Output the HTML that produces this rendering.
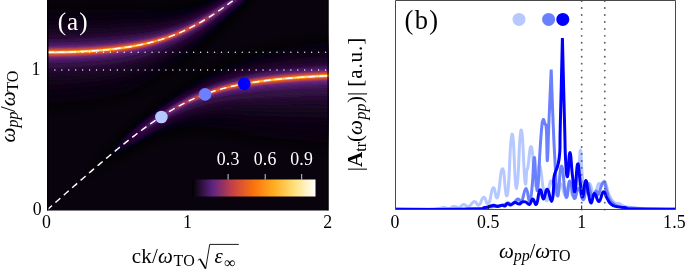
<!DOCTYPE html>
<html>
<head>
<meta charset="utf-8">
<title>Polariton dispersion</title>
<style>
html,body{margin:0;padding:0;background:#fff;}
body{width:685px;height:275px;overflow:hidden;font-family:"Liberation Serif",serif;}
svg{display:block;will-change:transform;}
text{font-family:"Liberation Serif",serif;}
.it{font-style:italic;}
</style>
</head>
<body>
<svg width="685" height="275" viewBox="0 0 685 275">
<defs>
  <clipPath id="clipL"><rect x="47" y="0" width="281.5" height="210.5"/></clipPath>
  <clipPath id="clipR"><rect x="395.5" y="0.5" width="280" height="209"/></clipPath>
  <filter id="hb8" filterUnits="userSpaceOnUse" x="0" y="-40" width="400" height="300"><feGaussianBlur stdDeviation="8"/></filter><filter id="hb6_5" filterUnits="userSpaceOnUse" x="0" y="-40" width="400" height="300"><feGaussianBlur stdDeviation="6.5"/></filter><filter id="hb5" filterUnits="userSpaceOnUse" x="0" y="-40" width="400" height="300"><feGaussianBlur stdDeviation="5"/></filter><filter id="hb3_5" filterUnits="userSpaceOnUse" x="0" y="-40" width="400" height="300"><feGaussianBlur stdDeviation="3.5"/></filter><filter id="hb2_5" filterUnits="userSpaceOnUse" x="0" y="-40" width="400" height="300"><feGaussianBlur stdDeviation="2.5"/></filter><filter id="hb1_6" filterUnits="userSpaceOnUse" x="0" y="-40" width="400" height="300"><feGaussianBlur stdDeviation="1.6"/></filter><filter id="hb1_0" filterUnits="userSpaceOnUse" x="0" y="-40" width="400" height="300"><feGaussianBlur stdDeviation="1.0"/></filter><filter id="hb0_5" filterUnits="userSpaceOnUse" x="0" y="-40" width="400" height="300"><feGaussianBlur stdDeviation="0.5"/></filter>
  <linearGradient id="gSpLo" gradientUnits="userSpaceOnUse" x1="47" y1="0" x2="328" y2="0">
    <stop offset="0.6" stop-color="#ffe9a8" stop-opacity="0"/>
    <stop offset="0.78" stop-color="#ffe9a8" stop-opacity="0.55"/>
    <stop offset="1" stop-color="#fff4d0" stop-opacity="0.9"/>
  </linearGradient>
  <linearGradient id="gSpUp" gradientUnits="userSpaceOnUse" x1="47" y1="0" x2="328" y2="0">
    <stop offset="0" stop-color="#fff4d0" stop-opacity="0.9"/>
    <stop offset="0.25" stop-color="#ffe9a8" stop-opacity="0.6"/>
    <stop offset="0.45" stop-color="#ffe9a8" stop-opacity="0"/>
  </linearGradient>
  <linearGradient id="gBar" x1="0" y1="0" x2="1" y2="0">
    <stop offset="0" stop-color="#000000"/>
    <stop offset="0.1667" stop-color="#5f2381"/>
    <stop offset="0.3333" stop-color="#c94245"/>
    <stop offset="0.5" stop-color="#fa730d"/>
    <stop offset="0.6667" stop-color="#ffae21"/>
    <stop offset="0.8333" stop-color="#ffe17d"/>
    <stop offset="1" stop-color="#ffffff"/>
  </linearGradient>
</defs>

<rect x="0" y="0" width="685" height="275" fill="#ffffff"/>

<!-- ================= LEFT PANEL (a) ================= -->
<rect x="47" y="0" width="281.5" height="210.5" fill="#08030c"/>
<g clip-path="url(#clipL)" fill="none" stroke-linecap="butt">
  <path d="M80.0,180.7 L84.0,177.1 L88.0,173.5 L92.0,169.9 L96.0,166.4 L100.0,162.9 L104.0,159.1 L108.0,155.5 L112.0,151.8 L116.0,148.2 L120.0,144.6 L124.0,141.1 L128.0,137.5 L132.0,133.9 L136.0,130.3 L140.0,126.8 L144.0,123.4 L148.0,120.0 L152.0,116.6 L156.0,113.2 L160.0,109.9 L164.0,106.6 L168.0,103.5 L172.0,100.4 L176.0,97.4 L180.0,94.5 L184.0,91.6 L188.0,88.8 L192.0,86.2 L196.0,83.6 L200.0,81.1 L204.0,78.8 L208.0,76.5 L212.0,74.2 L216.0,72.1 L220.0,70.0 L224.0,68.1 L228.0,66.2 L232.0,64.4 L236.0,62.6 L240.0,60.9 L244.0,59.3 L248.0,57.7 L252.0,56.3 L256.0,55.2 L260.0,54.1 L264.0,53.1 L268.0,52.0 L272.0,51.1 L276.0,50.1 L280.0,49.2 L284.0,48.5 L288.0,47.9 L292.0,47.2 L296.0,46.6 L300.0,46.0 L304.0,45.5 L308.0,44.9 L312.0,44.4 L316.0,43.8 L320.0,43.3 L324.0,42.8 L328.0,42.3 L332.0,42.1 L336.0,41.9 L340.0,41.7 L344.0,41.6 L344.0,141.9 L340.0,142.1 L336.0,142.2 L332.0,142.4 L328.0,142.6 L324.0,142.2 L320.0,141.8 L316.0,141.4 L312.0,141.0 L308.0,140.7 L304.0,140.4 L300.0,140.0 L296.0,139.7 L292.0,139.5 L288.0,139.2 L284.0,139.0 L280.0,138.8 L276.0,138.1 L272.0,137.5 L268.0,136.9 L264.0,136.4 L260.0,135.9 L256.0,135.4 L252.0,135.0 L248.0,134.2 L244.0,133.1 L240.0,132.0 L236.0,131.1 L232.0,130.2 L228.0,129.4 L224.0,128.6 L220.0,127.9 L216.0,127.3 L212.0,126.8 L208.0,126.5 L204.0,126.2 L200.0,126.0 L196.0,126.0 L192.0,126.2 L188.0,126.4 L184.0,126.8 L180.0,127.4 L176.0,128.0 L172.0,128.9 L168.0,129.9 L164.0,131.0 L160.0,132.2 L156.0,133.6 L152.0,135.0 L148.0,136.7 L144.0,138.6 L140.0,140.6 L136.0,142.7 L132.0,144.8 L128.0,147.0 L124.0,149.3 L120.0,151.9 L116.0,154.5 L112.0,157.2 L108.0,159.9 L104.0,162.6 L100.0,165.3 L96.0,168.6 L92.0,171.8 L88.0,175.0 L84.0,178.2 L80.0,181.4Z M32.0,9.1 L36.0,9.1 L40.0,9.1 L44.0,9.1 L48.0,9.1 L52.0,9.3 L56.0,9.4 L60.0,9.6 L64.0,9.7 L68.0,9.7 L72.0,9.8 L76.0,9.8 L80.0,9.8 L84.0,9.8 L88.0,9.8 L92.0,9.7 L96.0,9.6 L100.0,9.4 L104.0,9.5 L108.0,9.5 L112.0,9.5 L116.0,9.5 L120.0,9.4 L124.0,9.2 L128.0,9.0 L132.0,9.1 L136.0,9.6 L140.0,9.9 L144.0,10.2 L148.0,10.4 L152.0,10.5 L156.0,10.7 L160.0,10.7 L164.0,10.7 L168.0,10.5 L172.0,10.3 L176.0,9.9 L180.0,9.5 L184.0,8.9 L188.0,8.2 L192.0,7.3 L196.0,6.4 L200.0,5.3 L204.0,4.1 L208.0,2.7 L212.0,1.4 L216.0,-0.1 L220.0,-1.6 L224.0,-3.5 L228.0,-5.4 L232.0,-7.5 L236.0,-9.6 L240.0,-11.8 L244.0,-15.0 L248.0,-18.2 L248.0,-2.7 L244.0,0.5 L240.0,3.6 L236.0,7.7 L232.0,11.8 L228.0,15.8 L224.0,19.8 L220.0,23.7 L216.0,27.8 L212.0,31.8 L208.0,35.7 L204.0,39.4 L200.0,43.1 L196.0,46.6 L192.0,50.1 L188.0,53.4 L184.0,56.7 L180.0,59.9 L176.0,63.0 L172.0,66.0 L168.0,68.9 L164.0,71.7 L160.0,74.3 L156.0,76.9 L152.0,79.5 L148.0,81.8 L144.0,84.1 L140.0,86.2 L136.0,88.3 L132.0,90.4 L128.0,92.0 L124.0,93.0 L120.0,94.1 L116.0,95.1 L112.0,96.0 L108.0,96.9 L104.0,97.8 L100.0,98.6 L96.0,99.2 L92.0,99.7 L88.0,100.1 L84.0,100.6 L80.0,101.0 L76.0,101.4 L72.0,101.7 L68.0,102.1 L64.0,102.4 L60.0,102.7 L56.0,103.0 L52.0,103.2 L48.0,103.4 L44.0,103.5 L40.0,103.5 L36.0,103.5 L32.0,103.5Z" fill="#0b040f" filter="url(#hb8)"/>
  <path d="M84.0,177.3 L88.0,173.7 L92.0,170.1 L96.0,166.6 L100.0,163.1 L104.0,159.4 L108.0,155.7 L112.0,152.1 L116.0,148.6 L120.0,145.0 L124.0,141.5 L128.0,138.0 L132.0,134.5 L136.0,131.0 L140.0,127.6 L144.0,124.2 L148.0,120.9 L152.0,117.6 L156.0,114.3 L160.0,111.0 L164.0,107.9 L168.0,104.8 L172.0,101.9 L176.0,99.0 L180.0,96.1 L184.0,93.4 L188.0,90.8 L192.0,88.2 L196.0,85.8 L200.0,83.4 L204.0,81.2 L208.0,79.0 L212.0,76.9 L216.0,74.9 L220.0,73.0 L224.0,71.2 L228.0,69.4 L232.0,67.7 L236.0,66.1 L240.0,64.5 L244.0,63.0 L248.0,61.6 L252.0,60.3 L256.0,59.3 L260.0,58.3 L264.0,57.3 L268.0,56.4 L272.0,55.5 L276.0,54.6 L280.0,53.7 L284.0,53.1 L288.0,52.5 L292.0,51.9 L296.0,51.4 L300.0,50.8 L304.0,50.3 L308.0,49.8 L312.0,49.3 L316.0,48.8 L320.0,48.3 L324.0,47.8 L328.0,47.4 L332.0,47.2 L336.0,47.0 L340.0,46.9 L344.0,46.7 L344.0,131.7 L340.0,131.8 L336.0,132.0 L332.0,132.2 L328.0,132.4 L324.0,132.1 L320.0,131.8 L316.0,131.5 L312.0,131.2 L308.0,130.9 L304.0,130.7 L300.0,130.5 L296.0,130.2 L292.0,130.1 L288.0,129.9 L284.0,129.8 L280.0,129.6 L276.0,129.1 L272.0,128.7 L268.0,128.3 L264.0,127.9 L260.0,127.5 L256.0,127.2 L252.0,127.0 L248.0,126.4 L244.0,125.6 L240.0,124.8 L236.0,124.1 L232.0,123.5 L228.0,122.9 L224.0,122.5 L220.0,122.0 L216.0,121.7 L212.0,121.5 L208.0,121.4 L204.0,121.3 L200.0,121.5 L196.0,121.7 L192.0,122.1 L188.0,122.6 L184.0,123.2 L180.0,124.0 L176.0,124.9 L172.0,126.0 L168.0,127.2 L164.0,128.5 L160.0,129.9 L156.0,131.5 L152.0,133.1 L148.0,135.0 L144.0,137.0 L140.0,139.2 L136.0,141.4 L132.0,143.7 L128.0,146.0 L124.0,148.4 L120.0,151.1 L116.0,153.8 L112.0,156.6 L108.0,159.4 L104.0,162.2 L100.0,164.9 L96.0,168.1 L92.0,171.4 L88.0,174.6 L84.0,177.7Z M32.0,15.7 L36.0,15.7 L40.0,15.7 L44.0,15.7 L48.0,15.7 L52.0,15.9 L56.0,16.0 L60.0,16.1 L64.0,16.2 L68.0,16.2 L72.0,16.2 L76.0,16.2 L80.0,16.2 L84.0,16.2 L88.0,16.1 L92.0,16.0 L96.0,15.9 L100.0,15.7 L104.0,15.7 L108.0,15.7 L112.0,15.6 L116.0,15.5 L120.0,15.3 L124.0,15.1 L128.0,14.8 L132.0,14.8 L136.0,15.1 L140.0,15.3 L144.0,15.4 L148.0,15.4 L152.0,15.4 L156.0,15.3 L160.0,15.2 L164.0,14.9 L168.0,14.6 L172.0,14.2 L176.0,13.7 L180.0,13.0 L184.0,12.3 L188.0,11.4 L192.0,10.3 L196.0,9.2 L200.0,7.9 L204.0,6.5 L208.0,5.1 L212.0,3.5 L216.0,1.9 L220.0,0.2 L224.0,-1.8 L228.0,-3.9 L232.0,-6.1 L236.0,-8.4 L240.0,-10.7 L244.0,-13.9 L248.0,-17.1 L248.0,-4.0 L244.0,-0.8 L240.0,2.3 L236.0,6.3 L232.0,10.2 L228.0,14.0 L224.0,17.8 L220.0,21.6 L216.0,25.4 L212.0,29.3 L208.0,32.9 L204.0,36.5 L200.0,39.9 L196.0,43.3 L192.0,46.5 L188.0,49.7 L184.0,52.7 L180.0,55.7 L176.0,58.6 L172.0,61.4 L168.0,64.1 L164.0,66.6 L160.0,69.1 L156.0,71.4 L152.0,73.7 L148.0,75.9 L144.0,77.9 L140.0,79.9 L136.0,81.8 L132.0,83.6 L128.0,85.1 L124.0,86.1 L120.0,87.1 L116.0,88.0 L112.0,88.9 L108.0,89.7 L104.0,90.5 L100.0,91.3 L96.0,91.8 L92.0,92.2 L88.0,92.7 L84.0,93.1 L80.0,93.4 L76.0,93.8 L72.0,94.1 L68.0,94.4 L64.0,94.7 L60.0,95.0 L56.0,95.2 L52.0,95.4 L48.0,95.6 L44.0,95.7 L40.0,95.7 L36.0,95.7 L32.0,95.7Z" fill="#0e0513" filter="url(#hb8)"/>
  <path d="M92.0,170.3 L96.0,166.8 L100.0,163.3 L104.0,159.6 L108.0,155.9 L112.0,152.4 L116.0,148.8 L120.0,145.3 L124.0,141.9 L128.0,138.4 L132.0,134.9 L136.0,131.5 L140.0,128.1 L144.0,124.8 L148.0,121.5 L152.0,118.3 L156.0,115.0 L160.0,111.9 L164.0,108.8 L168.0,105.8 L172.0,102.9 L176.0,100.1 L180.0,97.4 L184.0,94.7 L188.0,92.2 L192.0,89.7 L196.0,87.4 L200.0,85.1 L204.0,82.9 L208.0,80.9 L212.0,78.9 L216.0,77.0 L220.0,75.1 L224.0,73.4 L228.0,71.7 L232.0,70.2 L236.0,68.6 L240.0,67.2 L244.0,65.8 L248.0,64.4 L252.0,63.2 L256.0,62.2 L260.0,61.3 L264.0,60.4 L268.0,59.5 L272.0,58.7 L276.0,57.8 L280.0,57.1 L284.0,56.5 L288.0,55.9 L292.0,55.3 L296.0,54.8 L300.0,54.3 L304.0,53.8 L308.0,53.3 L312.0,52.9 L316.0,52.4 L320.0,52.0 L324.0,51.5 L328.0,51.1 L332.0,50.9 L336.0,50.7 L340.0,50.6 L344.0,50.4 L344.0,124.3 L340.0,124.4 L336.0,124.6 L332.0,124.8 L328.0,125.0 L324.0,124.7 L320.0,124.5 L316.0,124.2 L312.0,124.0 L308.0,123.8 L304.0,123.7 L300.0,123.5 L296.0,123.4 L292.0,123.2 L288.0,123.1 L284.0,123.1 L280.0,123.0 L276.0,122.6 L272.0,122.3 L268.0,122.0 L264.0,121.7 L260.0,121.5 L256.0,121.3 L252.0,121.1 L248.0,120.7 L244.0,120.1 L240.0,119.5 L236.0,119.0 L232.0,118.6 L228.0,118.3 L224.0,118.0 L220.0,117.7 L216.0,117.6 L212.0,117.6 L208.0,117.6 L204.0,117.8 L200.0,118.1 L196.0,118.6 L192.0,119.1 L188.0,119.8 L184.0,120.6 L180.0,121.6 L176.0,122.6 L172.0,123.8 L168.0,125.2 L164.0,126.7 L160.0,128.3 L156.0,130.0 L152.0,131.7 L148.0,133.7 L144.0,135.9 L140.0,138.1 L136.0,140.4 L132.0,142.8 L128.0,145.2 L124.0,147.8 L120.0,150.5 L116.0,153.3 L112.0,156.1 L108.0,159.0 L104.0,161.8 L100.0,164.6 L96.0,167.8 L92.0,170.9Z M32.0,20.5 L36.0,20.5 L40.0,20.5 L44.0,20.5 L48.0,20.5 L52.0,20.7 L56.0,20.7 L60.0,20.8 L64.0,20.9 L68.0,20.9 L72.0,20.9 L76.0,20.9 L80.0,20.9 L84.0,20.8 L88.0,20.7 L92.0,20.6 L96.0,20.4 L100.0,20.2 L104.0,20.2 L108.0,20.1 L112.0,20.0 L116.0,19.8 L120.0,19.6 L124.0,19.4 L128.0,19.1 L132.0,19.0 L136.0,19.1 L140.0,19.1 L144.0,19.1 L148.0,19.0 L152.0,18.9 L156.0,18.7 L160.0,18.4 L164.0,18.0 L168.0,17.6 L172.0,17.0 L176.0,16.4 L180.0,15.6 L184.0,14.7 L188.0,13.7 L192.0,12.5 L196.0,11.2 L200.0,9.8 L204.0,8.4 L208.0,6.7 L212.0,5.1 L216.0,3.3 L220.0,1.5 L224.0,-0.6 L228.0,-2.8 L232.0,-5.1 L236.0,-7.5 L240.0,-9.9 L244.0,-13.1 L248.0,-16.3 L248.0,-5.0 L244.0,-1.8 L240.0,1.4 L236.0,5.2 L232.0,9.0 L228.0,12.7 L224.0,16.4 L220.0,20.0 L216.0,23.8 L212.0,27.4 L208.0,31.0 L204.0,34.3 L200.0,37.6 L196.0,40.8 L192.0,43.9 L188.0,46.9 L184.0,49.9 L180.0,52.7 L176.0,55.4 L172.0,58.0 L168.0,60.5 L164.0,62.9 L160.0,65.2 L156.0,67.5 L152.0,69.6 L148.0,71.6 L144.0,73.5 L140.0,75.3 L136.0,77.1 L132.0,78.8 L128.0,80.1 L124.0,81.1 L120.0,82.0 L116.0,82.8 L112.0,83.7 L108.0,84.4 L104.0,85.2 L100.0,85.9 L96.0,86.4 L92.0,86.8 L88.0,87.2 L84.0,87.6 L80.0,88.0 L76.0,88.3 L72.0,88.6 L68.0,88.9 L64.0,89.1 L60.0,89.4 L56.0,89.6 L52.0,89.8 L48.0,90.0 L44.0,90.0 L40.0,90.0 L36.0,90.0 L32.0,90.0Z" fill="#100616" filter="url(#hb8)"/>
  <path d="M100.0,163.5 L104.0,159.8 L108.0,156.1 L112.0,152.6 L116.0,149.1 L120.0,145.6 L124.0,142.2 L128.0,138.7 L132.0,135.3 L136.0,131.9 L140.0,128.6 L144.0,125.3 L148.0,122.1 L152.0,118.9 L156.0,115.7 L160.0,112.7 L164.0,109.6 L168.0,106.7 L172.0,103.9 L176.0,101.2 L180.0,98.5 L184.0,95.9 L188.0,93.5 L192.0,91.1 L196.0,88.8 L200.0,86.6 L204.0,84.6 L208.0,82.6 L212.0,80.7 L216.0,78.9 L220.0,77.1 L224.0,75.5 L228.0,73.9 L232.0,72.4 L236.0,71.0 L240.0,69.6 L244.0,68.3 L248.0,67.0 L252.0,65.9 L256.0,65.0 L260.0,64.1 L264.0,63.2 L268.0,62.4 L272.0,61.6 L276.0,60.9 L280.0,60.1 L284.0,59.6 L288.0,59.0 L292.0,58.5 L296.0,58.0 L300.0,57.5 L304.0,57.0 L308.0,56.6 L312.0,56.2 L316.0,55.7 L320.0,55.3 L324.0,54.9 L328.0,54.5 L332.0,54.3 L336.0,54.2 L340.0,54.0 L344.0,53.8 L344.0,117.4 L340.0,117.6 L336.0,117.7 L332.0,117.9 L328.0,118.1 L324.0,117.9 L320.0,117.7 L316.0,117.6 L312.0,117.4 L308.0,117.3 L304.0,117.2 L300.0,117.1 L296.0,117.0 L292.0,116.9 L288.0,116.9 L284.0,116.9 L280.0,116.9 L276.0,116.6 L272.0,116.4 L268.0,116.2 L264.0,116.0 L260.0,115.9 L256.0,115.8 L252.0,115.8 L248.0,115.5 L244.0,115.1 L240.0,114.7 L236.0,114.3 L232.0,114.1 L228.0,113.9 L224.0,113.8 L220.0,113.8 L216.0,113.8 L212.0,114.0 L208.0,114.2 L204.0,114.6 L200.0,115.1 L196.0,115.7 L192.0,116.4 L188.0,117.2 L184.0,118.2 L180.0,119.3 L176.0,120.5 L172.0,121.9 L168.0,123.4 L164.0,125.0 L160.0,126.7 L156.0,128.5 L152.0,130.5 L148.0,132.5 L144.0,134.8 L140.0,137.2 L136.0,139.6 L132.0,142.0 L128.0,144.5 L124.0,147.2 L120.0,150.0 L116.0,152.8 L112.0,155.7 L108.0,158.6 L104.0,161.4 L100.0,164.1Z M32.0,24.9 L36.0,24.9 L40.0,24.9 L44.0,24.9 L48.0,25.0 L52.0,25.1 L56.0,25.1 L60.0,25.2 L64.0,25.2 L68.0,25.2 L72.0,25.2 L76.0,25.2 L80.0,25.1 L84.0,25.0 L88.0,24.9 L92.0,24.8 L96.0,24.6 L100.0,24.4 L104.0,24.3 L108.0,24.2 L112.0,24.0 L116.0,23.8 L120.0,23.6 L124.0,23.3 L128.0,22.9 L132.0,22.8 L136.0,22.8 L140.0,22.7 L144.0,22.6 L148.0,22.4 L152.0,22.1 L156.0,21.8 L160.0,21.4 L164.0,20.9 L168.0,20.3 L172.0,19.6 L176.0,18.8 L180.0,18.0 L184.0,16.9 L188.0,15.8 L192.0,14.5 L196.0,13.1 L200.0,11.6 L204.0,10.0 L208.0,8.3 L212.0,6.5 L216.0,4.6 L220.0,2.7 L224.0,0.5 L228.0,-1.8 L232.0,-4.2 L236.0,-6.7 L240.0,-9.2 L244.0,-12.3 L248.0,-15.5 L248.0,-5.8 L244.0,-2.6 L240.0,0.5 L236.0,4.2 L232.0,7.9 L228.0,11.5 L224.0,15.1 L220.0,18.6 L216.0,22.2 L212.0,25.7 L208.0,29.1 L204.0,32.4 L200.0,35.5 L196.0,38.6 L192.0,41.6 L188.0,44.4 L184.0,47.2 L180.0,49.9 L176.0,52.4 L172.0,54.9 L168.0,57.3 L164.0,59.5 L160.0,61.7 L156.0,63.8 L152.0,65.8 L148.0,67.6 L144.0,69.4 L140.0,71.1 L136.0,72.7 L132.0,74.3 L128.0,75.5 L124.0,76.4 L120.0,77.3 L116.0,78.1 L112.0,78.9 L108.0,79.6 L104.0,80.3 L100.0,81.0 L96.0,81.4 L92.0,81.8 L88.0,82.2 L84.0,82.6 L80.0,82.9 L76.0,83.2 L72.0,83.5 L68.0,83.8 L64.0,84.0 L60.0,84.2 L56.0,84.4 L52.0,84.6 L48.0,84.7 L44.0,84.8 L40.0,84.8 L36.0,84.8 L32.0,84.8Z" fill="#13071a" filter="url(#hb6_5)"/>
  <path d="M104.0,159.9 L108.0,156.3 L112.0,152.8 L116.0,149.3 L120.0,145.8 L124.0,142.4 L128.0,139.0 L132.0,135.6 L136.0,132.2 L140.0,128.9 L144.0,125.7 L148.0,122.5 L152.0,119.4 L156.0,116.3 L160.0,113.2 L164.0,110.3 L168.0,107.4 L172.0,104.6 L176.0,101.9 L180.0,99.3 L184.0,96.8 L188.0,94.4 L192.0,92.1 L196.0,89.9 L200.0,87.8 L204.0,85.8 L208.0,83.8 L212.0,82.0 L216.0,80.3 L220.0,78.6 L224.0,77.0 L228.0,75.5 L232.0,74.1 L236.0,72.7 L240.0,71.4 L244.0,70.2 L248.0,69.0 L252.0,67.9 L256.0,67.0 L260.0,66.2 L264.0,65.4 L268.0,64.6 L272.0,63.8 L276.0,63.1 L280.0,62.4 L284.0,61.9 L288.0,61.3 L292.0,60.8 L296.0,60.4 L300.0,59.9 L304.0,59.5 L308.0,59.0 L312.0,58.6 L316.0,58.2 L320.0,57.8 L324.0,57.4 L328.0,57.1 L332.0,56.9 L336.0,56.7 L340.0,56.5 L344.0,56.4 L344.0,112.3 L340.0,112.5 L336.0,112.6 L332.0,112.8 L328.0,113.0 L324.0,112.9 L320.0,112.7 L316.0,112.6 L312.0,112.5 L308.0,112.4 L304.0,112.3 L300.0,112.3 L296.0,112.3 L292.0,112.2 L288.0,112.2 L284.0,112.3 L280.0,112.3 L276.0,112.1 L272.0,112.0 L268.0,111.9 L264.0,111.8 L260.0,111.7 L256.0,111.7 L252.0,111.7 L248.0,111.6 L244.0,111.3 L240.0,111.0 L236.0,110.8 L232.0,110.7 L228.0,110.7 L224.0,110.7 L220.0,110.8 L216.0,111.0 L212.0,111.3 L208.0,111.7 L204.0,112.2 L200.0,112.8 L196.0,113.5 L192.0,114.3 L188.0,115.3 L184.0,116.4 L180.0,117.6 L176.0,118.9 L172.0,120.4 L168.0,122.0 L164.0,123.7 L160.0,125.6 L156.0,127.5 L152.0,129.5 L148.0,131.7 L144.0,134.0 L140.0,136.4 L136.0,138.9 L132.0,141.4 L128.0,144.0 L124.0,146.7 L120.0,149.5 L116.0,152.4 L112.0,155.3 L108.0,158.2 L104.0,161.1Z M32.0,28.2 L36.0,28.2 L40.0,28.2 L44.0,28.2 L48.0,28.3 L52.0,28.4 L56.0,28.4 L60.0,28.5 L64.0,28.5 L68.0,28.5 L72.0,28.4 L76.0,28.4 L80.0,28.3 L84.0,28.2 L88.0,28.1 L92.0,27.9 L96.0,27.8 L100.0,27.5 L104.0,27.4 L108.0,27.3 L112.0,27.1 L116.0,26.8 L120.0,26.6 L124.0,26.2 L128.0,25.9 L132.0,25.6 L136.0,25.5 L140.0,25.4 L144.0,25.2 L148.0,24.9 L152.0,24.5 L156.0,24.1 L160.0,23.6 L164.0,23.1 L168.0,22.4 L172.0,21.6 L176.0,20.7 L180.0,19.7 L184.0,18.6 L188.0,17.4 L192.0,16.0 L196.0,14.6 L200.0,13.0 L204.0,11.3 L208.0,9.5 L212.0,7.6 L216.0,5.6 L220.0,3.6 L224.0,1.3 L228.0,-1.1 L232.0,-3.5 L236.0,-6.0 L240.0,-8.6 L244.0,-11.8 L248.0,-15.0 L248.0,-6.5 L244.0,-3.3 L240.0,-0.2 L236.0,3.5 L232.0,7.1 L228.0,10.7 L224.0,14.1 L220.0,17.6 L216.0,21.0 L212.0,24.5 L208.0,27.7 L204.0,30.9 L200.0,34.0 L196.0,36.9 L192.0,39.8 L188.0,42.5 L184.0,45.2 L180.0,47.8 L176.0,50.2 L172.0,52.6 L168.0,54.9 L164.0,57.0 L160.0,59.1 L156.0,61.0 L152.0,62.9 L148.0,64.7 L144.0,66.3 L140.0,67.9 L136.0,69.4 L132.0,70.9 L128.0,72.1 L124.0,72.9 L120.0,73.8 L116.0,74.5 L112.0,75.3 L108.0,76.0 L104.0,76.6 L100.0,77.3 L96.0,77.7 L92.0,78.1 L88.0,78.5 L84.0,78.8 L80.0,79.1 L76.0,79.4 L72.0,79.7 L68.0,79.9 L64.0,80.2 L60.0,80.4 L56.0,80.5 L52.0,80.7 L48.0,80.8 L44.0,80.9 L40.0,80.9 L36.0,80.9 L32.0,80.9Z" fill="#16081d" filter="url(#hb6_5)"/>
  <path d="M104.0,160.2 L108.0,156.5 L112.0,152.9 L116.0,149.5 L120.0,146.0 L124.0,142.6 L128.0,139.2 L132.0,135.9 L136.0,132.5 L140.0,129.3 L144.0,126.1 L148.0,122.9 L152.0,119.8 L156.0,116.8 L160.0,113.8 L164.0,110.9 L168.0,108.0 L172.0,105.3 L176.0,102.7 L180.0,100.1 L184.0,97.7 L188.0,95.3 L192.0,93.0 L196.0,90.9 L200.0,88.8 L204.0,86.9 L208.0,85.0 L212.0,83.2 L216.0,81.6 L220.0,80.0 L224.0,78.4 L228.0,77.0 L232.0,75.6 L236.0,74.3 L240.0,73.1 L244.0,71.9 L248.0,70.7 L252.0,69.7 L256.0,68.9 L260.0,68.1 L264.0,67.3 L268.0,66.5 L272.0,65.8 L276.0,65.1 L280.0,64.5 L284.0,64.0 L288.0,63.5 L292.0,63.0 L296.0,62.5 L300.0,62.1 L304.0,61.7 L308.0,61.3 L312.0,60.9 L316.0,60.5 L320.0,60.1 L324.0,59.8 L328.0,59.4 L332.0,59.2 L336.0,59.0 L340.0,58.9 L344.0,58.7 L344.0,107.6 L340.0,107.8 L336.0,108.0 L332.0,108.1 L328.0,108.3 L324.0,108.2 L320.0,108.1 L316.0,108.1 L312.0,108.0 L308.0,108.0 L304.0,107.9 L300.0,107.9 L296.0,107.9 L292.0,108.0 L288.0,108.0 L284.0,108.1 L280.0,108.2 L276.0,108.0 L272.0,108.0 L268.0,107.9 L264.0,107.9 L260.0,107.9 L256.0,108.0 L252.0,108.1 L248.0,108.0 L244.0,107.8 L240.0,107.7 L236.0,107.7 L232.0,107.7 L228.0,107.8 L224.0,107.9 L220.0,108.1 L216.0,108.4 L212.0,108.8 L208.0,109.3 L204.0,109.9 L200.0,110.7 L196.0,111.5 L192.0,112.5 L188.0,113.5 L184.0,114.7 L180.0,116.1 L176.0,117.5 L172.0,119.1 L168.0,120.8 L164.0,122.6 L160.0,124.5 L156.0,126.5 L152.0,128.6 L148.0,130.9 L144.0,133.3 L140.0,135.7 L136.0,138.3 L132.0,140.9 L128.0,143.5 L124.0,146.2 L120.0,149.1 L116.0,152.0 L112.0,155.0 L108.0,157.9 L104.0,160.6Z M32.0,31.3 L36.0,31.3 L40.0,31.3 L44.0,31.3 L48.0,31.3 L52.0,31.4 L56.0,31.4 L60.0,31.4 L64.0,31.4 L68.0,31.4 L72.0,31.4 L76.0,31.3 L80.0,31.2 L84.0,31.1 L88.0,31.0 L92.0,30.8 L96.0,30.6 L100.0,30.4 L104.0,30.2 L108.0,30.1 L112.0,29.8 L116.0,29.6 L120.0,29.3 L124.0,28.9 L128.0,28.5 L132.0,28.2 L136.0,28.1 L140.0,27.8 L144.0,27.5 L148.0,27.1 L152.0,26.7 L156.0,26.2 L160.0,25.7 L164.0,25.0 L168.0,24.2 L172.0,23.4 L176.0,22.4 L180.0,21.3 L184.0,20.1 L188.0,18.8 L192.0,17.4 L196.0,15.9 L200.0,14.2 L204.0,12.4 L208.0,10.5 L212.0,8.6 L216.0,6.5 L220.0,4.4 L224.0,2.0 L228.0,-0.4 L232.0,-2.9 L236.0,-5.5 L240.0,-8.1 L244.0,-11.3 L248.0,-14.5 L248.0,-7.1 L244.0,-3.9 L240.0,-0.8 L236.0,2.8 L232.0,6.4 L228.0,9.8 L224.0,13.2 L220.0,16.6 L216.0,20.0 L212.0,23.3 L208.0,26.5 L204.0,29.6 L200.0,32.5 L196.0,35.4 L192.0,38.2 L188.0,40.8 L184.0,43.4 L180.0,45.9 L176.0,48.2 L172.0,50.5 L168.0,52.7 L164.0,54.7 L160.0,56.7 L156.0,58.5 L152.0,60.3 L148.0,62.0 L144.0,63.5 L140.0,65.0 L136.0,66.5 L132.0,67.8 L128.0,68.9 L124.0,69.8 L120.0,70.6 L116.0,71.3 L112.0,72.0 L108.0,72.7 L104.0,73.3 L100.0,73.9 L96.0,74.3 L92.0,74.7 L88.0,75.1 L84.0,75.4 L80.0,75.7 L76.0,76.0 L72.0,76.2 L68.0,76.4 L64.0,76.7 L60.0,76.8 L56.0,77.0 L52.0,77.1 L48.0,77.3 L44.0,77.3 L40.0,77.3 L36.0,77.3 L32.0,77.3Z" fill="#190922" filter="url(#hb6_5)"/>
  <path d="M108.0,156.7 L112.0,153.1 L116.0,149.6 L120.0,146.2 L124.0,142.8 L128.0,139.4 L132.0,136.1 L136.0,132.8 L140.0,129.5 L144.0,126.4 L148.0,123.2 L152.0,120.2 L156.0,117.1 L160.0,114.2 L164.0,111.3 L168.0,108.5 L172.0,105.8 L176.0,103.2 L180.0,100.7 L184.0,98.3 L188.0,96.0 L192.0,93.8 L196.0,91.7 L200.0,89.7 L204.0,87.7 L208.0,85.9 L212.0,84.2 L216.0,82.5 L220.0,81.0 L224.0,79.5 L228.0,78.1 L232.0,76.8 L236.0,75.6 L240.0,74.4 L244.0,73.2 L248.0,72.1 L252.0,71.2 L256.0,70.3 L260.0,69.5 L264.0,68.8 L268.0,68.1 L272.0,67.4 L276.0,66.7 L280.0,66.1 L284.0,65.6 L288.0,65.1 L292.0,64.6 L296.0,64.2 L300.0,63.8 L304.0,63.4 L308.0,63.0 L312.0,62.6 L316.0,62.2 L320.0,61.9 L324.0,61.5 L328.0,61.2 L332.0,61.0 L336.0,60.8 L340.0,60.7 L344.0,60.5 L344.0,104.0 L340.0,104.2 L336.0,104.4 L332.0,104.5 L328.0,104.7 L324.0,104.7 L320.0,104.6 L316.0,104.6 L312.0,104.5 L308.0,104.5 L304.0,104.5 L300.0,104.6 L296.0,104.6 L292.0,104.6 L288.0,104.7 L284.0,104.8 L280.0,104.9 L276.0,104.9 L272.0,104.9 L268.0,104.9 L264.0,104.9 L260.0,105.0 L256.0,105.1 L252.0,105.3 L248.0,105.3 L244.0,105.2 L240.0,105.2 L236.0,105.2 L232.0,105.3 L228.0,105.5 L224.0,105.7 L220.0,106.0 L216.0,106.4 L212.0,106.9 L208.0,107.5 L204.0,108.2 L200.0,109.0 L196.0,110.0 L192.0,111.0 L188.0,112.2 L184.0,113.5 L180.0,114.9 L176.0,116.4 L172.0,118.0 L168.0,119.8 L164.0,121.7 L160.0,123.7 L156.0,125.8 L152.0,127.9 L148.0,130.2 L144.0,132.7 L140.0,135.2 L136.0,137.8 L132.0,140.4 L128.0,143.1 L124.0,145.9 L120.0,148.8 L116.0,151.7 L112.0,154.7 L108.0,157.5Z M32.0,33.6 L36.0,33.6 L40.0,33.6 L44.0,33.6 L48.0,33.6 L52.0,33.7 L56.0,33.7 L60.0,33.7 L64.0,33.7 L68.0,33.7 L72.0,33.7 L76.0,33.6 L80.0,33.5 L84.0,33.4 L88.0,33.2 L92.0,33.0 L96.0,32.8 L100.0,32.6 L104.0,32.4 L108.0,32.2 L112.0,32.0 L116.0,31.7 L120.0,31.4 L124.0,31.0 L128.0,30.6 L132.0,30.2 L136.0,30.0 L140.0,29.7 L144.0,29.4 L148.0,28.9 L152.0,28.4 L156.0,27.9 L160.0,27.2 L164.0,26.5 L168.0,25.7 L172.0,24.7 L176.0,23.7 L180.0,22.6 L184.0,21.3 L188.0,20.0 L192.0,18.5 L196.0,16.8 L200.0,15.1 L204.0,13.3 L208.0,11.3 L212.0,9.3 L216.0,7.2 L220.0,5.0 L224.0,2.6 L228.0,0.2 L232.0,-2.4 L236.0,-5.0 L240.0,-7.7 L244.0,-10.9 L248.0,-14.1 L248.0,-7.6 L244.0,-4.4 L240.0,-1.2 L236.0,2.3 L232.0,5.8 L228.0,9.2 L224.0,12.6 L220.0,15.8 L216.0,19.2 L212.0,22.4 L208.0,25.5 L204.0,28.5 L200.0,31.4 L196.0,34.2 L192.0,36.9 L188.0,39.5 L184.0,42.0 L180.0,44.4 L176.0,46.7 L172.0,48.9 L168.0,51.0 L164.0,52.9 L160.0,54.8 L156.0,56.6 L152.0,58.3 L148.0,59.9 L144.0,61.4 L140.0,62.8 L136.0,64.2 L132.0,65.5 L128.0,66.5 L124.0,67.3 L120.0,68.1 L116.0,68.8 L112.0,69.5 L108.0,70.1 L104.0,70.7 L100.0,71.3 L96.0,71.7 L92.0,72.1 L88.0,72.4 L84.0,72.7 L80.0,73.0 L76.0,73.3 L72.0,73.5 L68.0,73.8 L64.0,74.0 L60.0,74.1 L56.0,74.3 L52.0,74.4 L48.0,74.5 L44.0,74.5 L40.0,74.5 L36.0,74.5 L32.0,74.5Z" fill="#1d0b27" filter="url(#hb5)"/>
  <path d="M112.0,153.3 L116.0,149.8 L120.0,146.4 L124.0,143.0 L128.0,139.6 L132.0,136.3 L136.0,133.0 L140.0,129.8 L144.0,126.6 L148.0,123.5 L152.0,120.5 L156.0,117.5 L160.0,114.6 L164.0,111.7 L168.0,109.0 L172.0,106.3 L176.0,103.7 L180.0,101.3 L184.0,98.9 L188.0,96.6 L192.0,94.4 L196.0,92.4 L200.0,90.4 L204.0,88.5 L208.0,86.7 L212.0,85.1 L216.0,83.5 L220.0,81.9 L224.0,80.5 L228.0,79.2 L232.0,77.9 L236.0,76.7 L240.0,75.5 L244.0,74.4 L248.0,73.4 L252.0,72.4 L256.0,71.6 L260.0,70.9 L264.0,70.1 L268.0,69.5 L272.0,68.8 L276.0,68.2 L280.0,67.6 L284.0,67.1 L288.0,66.6 L292.0,66.1 L296.0,65.7 L300.0,65.3 L304.0,64.9 L308.0,64.5 L312.0,64.2 L316.0,63.8 L320.0,63.5 L324.0,63.2 L328.0,62.8 L332.0,62.7 L336.0,62.5 L340.0,62.3 L344.0,62.1 L344.0,100.8 L340.0,100.9 L336.0,101.1 L332.0,101.3 L328.0,101.5 L324.0,101.4 L320.0,101.4 L316.0,101.4 L312.0,101.4 L308.0,101.4 L304.0,101.4 L300.0,101.5 L296.0,101.6 L292.0,101.6 L288.0,101.7 L284.0,101.9 L280.0,102.0 L276.0,102.0 L272.0,102.0 L268.0,102.1 L264.0,102.2 L260.0,102.3 L256.0,102.5 L252.0,102.7 L248.0,102.8 L244.0,102.8 L240.0,102.8 L236.0,103.0 L232.0,103.2 L228.0,103.4 L224.0,103.8 L220.0,104.1 L216.0,104.6 L212.0,105.2 L208.0,105.9 L204.0,106.7 L200.0,107.6 L196.0,108.6 L192.0,109.7 L188.0,110.9 L184.0,112.3 L180.0,113.8 L176.0,115.4 L172.0,117.1 L168.0,118.9 L164.0,120.9 L160.0,122.9 L156.0,125.1 L152.0,127.3 L148.0,129.7 L144.0,132.2 L140.0,134.7 L136.0,137.4 L132.0,140.0 L128.0,142.8 L124.0,145.6 L120.0,148.5 L116.0,151.4 L112.0,154.3Z M32.0,35.7 L36.0,35.7 L40.0,35.7 L44.0,35.7 L48.0,35.7 L52.0,35.8 L56.0,35.8 L60.0,35.8 L64.0,35.8 L68.0,35.8 L72.0,35.7 L76.0,35.6 L80.0,35.5 L84.0,35.4 L88.0,35.2 L92.0,35.1 L96.0,34.8 L100.0,34.6 L104.0,34.4 L108.0,34.2 L112.0,33.9 L116.0,33.6 L120.0,33.3 L124.0,32.9 L128.0,32.4 L132.0,32.1 L136.0,31.8 L140.0,31.4 L144.0,31.0 L148.0,30.5 L152.0,30.0 L156.0,29.4 L160.0,28.7 L164.0,27.9 L168.0,27.0 L172.0,26.0 L176.0,24.9 L180.0,23.7 L184.0,22.4 L188.0,21.0 L192.0,19.4 L196.0,17.8 L200.0,16.0 L204.0,14.1 L208.0,12.1 L212.0,10.0 L216.0,7.8 L220.0,5.6 L224.0,3.2 L228.0,0.7 L232.0,-1.9 L236.0,-4.6 L240.0,-7.4 L244.0,-10.5 L248.0,-13.7 L248.0,-8.0 L244.0,-4.8 L240.0,-1.7 L236.0,1.8 L232.0,5.3 L228.0,8.6 L224.0,11.9 L220.0,15.2 L216.0,18.4 L212.0,21.6 L208.0,24.6 L204.0,27.6 L200.0,30.4 L196.0,33.1 L192.0,35.8 L188.0,38.3 L184.0,40.7 L180.0,43.0 L176.0,45.3 L172.0,47.4 L168.0,49.4 L164.0,51.3 L160.0,53.1 L156.0,54.8 L152.0,56.5 L148.0,58.0 L144.0,59.4 L140.0,60.8 L136.0,62.1 L132.0,63.3 L128.0,64.3 L124.0,65.1 L120.0,65.8 L116.0,66.5 L112.0,67.2 L108.0,67.8 L104.0,68.4 L100.0,68.9 L96.0,69.3 L92.0,69.7 L88.0,70.0 L84.0,70.3 L80.0,70.6 L76.0,70.9 L72.0,71.1 L68.0,71.3 L64.0,71.5 L60.0,71.7 L56.0,71.8 L52.0,71.9 L48.0,72.0 L44.0,72.0 L40.0,72.0 L36.0,72.0 L32.0,72.0Z" fill="#200c2c" filter="url(#hb5)"/>
  <path d="M112.0,153.5 L116.0,149.9 L120.0,146.5 L124.0,143.1 L128.0,139.8 L132.0,136.5 L136.0,133.2 L140.0,130.0 L144.0,126.9 L148.0,123.8 L152.0,120.8 L156.0,117.8 L160.0,114.9 L164.0,112.1 L168.0,109.4 L172.0,106.7 L176.0,104.2 L180.0,101.7 L184.0,99.4 L188.0,97.2 L192.0,95.0 L196.0,93.0 L200.0,91.0 L204.0,89.2 L208.0,87.5 L212.0,85.8 L216.0,84.3 L220.0,82.8 L224.0,81.4 L228.0,80.1 L232.0,78.8 L236.0,77.7 L240.0,76.6 L244.0,75.5 L248.0,74.5 L252.0,73.6 L256.0,72.8 L260.0,72.1 L264.0,71.4 L268.0,70.7 L272.0,70.0 L276.0,69.4 L280.0,68.9 L284.0,68.4 L288.0,67.9 L292.0,67.5 L296.0,67.1 L300.0,66.7 L304.0,66.3 L308.0,65.9 L312.0,65.6 L316.0,65.2 L320.0,64.9 L324.0,64.6 L328.0,64.3 L332.0,64.1 L336.0,63.9 L340.0,63.8 L344.0,63.6 L344.0,97.8 L340.0,98.0 L336.0,98.2 L332.0,98.4 L328.0,98.5 L324.0,98.5 L320.0,98.5 L316.0,98.6 L312.0,98.6 L308.0,98.6 L304.0,98.7 L300.0,98.8 L296.0,98.8 L292.0,99.0 L288.0,99.1 L284.0,99.2 L280.0,99.4 L276.0,99.5 L272.0,99.5 L268.0,99.6 L264.0,99.8 L260.0,99.9 L256.0,100.1 L252.0,100.4 L248.0,100.6 L244.0,100.6 L240.0,100.8 L236.0,101.0 L232.0,101.2 L228.0,101.6 L224.0,102.0 L220.0,102.5 L216.0,103.0 L212.0,103.7 L208.0,104.4 L204.0,105.3 L200.0,106.2 L196.0,107.3 L192.0,108.5 L188.0,109.8 L184.0,111.2 L180.0,112.8 L176.0,114.4 L172.0,116.2 L168.0,118.1 L164.0,120.1 L160.0,122.2 L156.0,124.4 L152.0,126.7 L148.0,129.1 L144.0,131.7 L140.0,134.3 L136.0,137.0 L132.0,139.7 L128.0,142.4 L124.0,145.2 L120.0,148.2 L116.0,151.1 L112.0,153.9Z M32.0,37.6 L36.0,37.6 L40.0,37.6 L44.0,37.6 L48.0,37.6 L52.0,37.7 L56.0,37.7 L60.0,37.7 L64.0,37.7 L68.0,37.6 L72.0,37.6 L76.0,37.5 L80.0,37.4 L84.0,37.2 L88.0,37.1 L92.0,36.9 L96.0,36.6 L100.0,36.4 L104.0,36.2 L108.0,35.9 L112.0,35.6 L116.0,35.3 L120.0,35.0 L124.0,34.5 L128.0,34.1 L132.0,33.7 L136.0,33.4 L140.0,33.0 L144.0,32.5 L148.0,32.0 L152.0,31.4 L156.0,30.7 L160.0,30.0 L164.0,29.1 L168.0,28.2 L172.0,27.1 L176.0,26.0 L180.0,24.7 L184.0,23.4 L188.0,21.9 L192.0,20.3 L196.0,18.6 L200.0,16.7 L204.0,14.8 L208.0,12.8 L212.0,10.6 L216.0,8.4 L220.0,6.1 L224.0,3.6 L228.0,1.1 L232.0,-1.5 L236.0,-4.3 L240.0,-7.0 L244.0,-10.2 L248.0,-13.4 L248.0,-8.4 L244.0,-5.2 L240.0,-2.1 L236.0,1.4 L232.0,4.8 L228.0,8.1 L224.0,11.4 L220.0,14.5 L216.0,17.7 L212.0,20.8 L208.0,23.8 L204.0,26.7 L200.0,29.5 L196.0,32.2 L192.0,34.8 L188.0,37.2 L184.0,39.6 L180.0,41.8 L176.0,44.0 L172.0,46.1 L168.0,48.0 L164.0,49.9 L160.0,51.6 L156.0,53.3 L152.0,54.8 L148.0,56.3 L144.0,57.7 L140.0,59.0 L136.0,60.2 L132.0,61.4 L128.0,62.4 L124.0,63.1 L120.0,63.8 L116.0,64.5 L112.0,65.2 L108.0,65.7 L104.0,66.3 L100.0,66.8 L96.0,67.2 L92.0,67.6 L88.0,67.9 L84.0,68.2 L80.0,68.5 L76.0,68.7 L72.0,68.9 L68.0,69.1 L64.0,69.3 L60.0,69.5 L56.0,69.6 L52.0,69.7 L48.0,69.8 L44.0,69.8 L40.0,69.8 L36.0,69.8 L32.0,69.8Z" fill="#250e32" filter="url(#hb5)"/>
  <path d="M116.0,150.2 L120.0,146.7 L124.0,143.3 L128.0,139.9 L132.0,136.6 L136.0,133.4 L140.0,130.2 L144.0,127.1 L148.0,124.0 L152.0,121.0 L156.0,118.1 L160.0,115.2 L164.0,112.4 L168.0,109.7 L172.0,107.1 L176.0,104.6 L180.0,102.2 L184.0,99.9 L188.0,97.6 L192.0,95.5 L196.0,93.5 L200.0,91.6 L204.0,89.8 L208.0,88.1 L212.0,86.5 L216.0,85.0 L220.0,83.5 L224.0,82.2 L228.0,80.9 L232.0,79.7 L236.0,78.5 L240.0,77.5 L244.0,76.4 L248.0,75.5 L252.0,74.6 L256.0,73.8 L260.0,73.1 L264.0,72.4 L268.0,71.8 L272.0,71.2 L276.0,70.6 L280.0,70.0 L284.0,69.5 L288.0,69.1 L292.0,68.7 L296.0,68.3 L300.0,67.9 L304.0,67.5 L308.0,67.2 L312.0,66.8 L316.0,66.5 L320.0,66.2 L324.0,65.9 L328.0,65.6 L332.0,65.4 L336.0,65.2 L340.0,65.0 L344.0,64.9 L344.0,95.3 L340.0,95.4 L336.0,95.6 L332.0,95.8 L328.0,96.0 L324.0,96.0 L320.0,96.0 L316.0,96.1 L312.0,96.1 L308.0,96.2 L304.0,96.3 L300.0,96.4 L296.0,96.5 L292.0,96.6 L288.0,96.8 L284.0,96.9 L280.0,97.1 L276.0,97.2 L272.0,97.3 L268.0,97.5 L264.0,97.6 L260.0,97.8 L256.0,98.1 L252.0,98.4 L248.0,98.6 L244.0,98.7 L240.0,98.9 L236.0,99.2 L232.0,99.5 L228.0,100.0 L224.0,100.4 L220.0,101.0 L216.0,101.6 L212.0,102.3 L208.0,103.1 L204.0,104.1 L200.0,105.1 L196.0,106.2 L192.0,107.5 L188.0,108.8 L184.0,110.3 L180.0,111.9 L176.0,113.6 L172.0,115.5 L168.0,117.4 L164.0,119.5 L160.0,121.6 L156.0,123.9 L152.0,126.2 L148.0,128.7 L144.0,131.2 L140.0,133.9 L136.0,136.6 L132.0,139.3 L128.0,142.1 L124.0,144.9 L120.0,147.8 L116.0,150.7Z M32.0,39.2 L36.0,39.2 L40.0,39.2 L44.0,39.2 L48.0,39.3 L52.0,39.3 L56.0,39.3 L60.0,39.3 L64.0,39.3 L68.0,39.2 L72.0,39.2 L76.0,39.1 L80.0,39.0 L84.0,38.8 L88.0,38.6 L92.0,38.4 L96.0,38.2 L100.0,37.9 L104.0,37.7 L108.0,37.5 L112.0,37.2 L116.0,36.8 L120.0,36.4 L124.0,36.0 L128.0,35.5 L132.0,35.1 L136.0,34.7 L140.0,34.3 L144.0,33.8 L148.0,33.2 L152.0,32.6 L156.0,31.9 L160.0,31.1 L164.0,30.2 L168.0,29.2 L172.0,28.1 L176.0,26.9 L180.0,25.6 L184.0,24.2 L188.0,22.7 L192.0,21.0 L196.0,19.3 L200.0,17.4 L204.0,15.4 L208.0,13.3 L212.0,11.2 L216.0,8.9 L220.0,6.6 L224.0,4.1 L228.0,1.5 L232.0,-1.2 L236.0,-3.9 L240.0,-6.7 L244.0,-9.9 L248.0,-13.1 L248.0,-8.7 L244.0,-5.5 L240.0,-2.4 L236.0,1.0 L232.0,4.4 L228.0,7.6 L224.0,10.9 L220.0,14.0 L216.0,17.1 L212.0,20.2 L208.0,23.1 L204.0,26.0 L200.0,28.7 L196.0,31.3 L192.0,33.9 L188.0,36.3 L184.0,38.6 L180.0,40.8 L176.0,42.9 L172.0,44.9 L168.0,46.8 L164.0,48.6 L160.0,50.3 L156.0,51.9 L152.0,53.4 L148.0,54.8 L144.0,56.1 L140.0,57.4 L136.0,58.6 L132.0,59.7 L128.0,60.6 L124.0,61.4 L120.0,62.1 L116.0,62.7 L112.0,63.4 L108.0,63.9 L104.0,64.5 L100.0,65.0 L96.0,65.3 L92.0,65.7 L88.0,66.0 L84.0,66.3 L80.0,66.6 L76.0,66.8 L72.0,67.0 L68.0,67.2 L64.0,67.4 L60.0,67.5 L56.0,67.7 L52.0,67.8 L48.0,67.8 L44.0,67.9 L40.0,67.9 L36.0,67.9 L32.0,67.9Z" fill="#2a1039" filter="url(#hb3_5)"/>
  <path d="M120.0,146.9 L124.0,143.5 L128.0,140.1 L132.0,136.8 L136.0,133.6 L140.0,130.4 L144.0,127.3 L148.0,124.2 L152.0,121.2 L156.0,118.3 L160.0,115.5 L164.0,112.7 L168.0,110.0 L172.0,107.4 L176.0,104.9 L180.0,102.5 L184.0,100.3 L188.0,98.1 L192.0,96.0 L196.0,94.0 L200.0,92.1 L204.0,90.4 L208.0,88.7 L212.0,87.1 L216.0,85.6 L220.0,84.2 L224.0,82.8 L228.0,81.6 L232.0,80.4 L236.0,79.3 L240.0,78.3 L244.0,77.3 L248.0,76.3 L252.0,75.5 L256.0,74.7 L260.0,74.0 L264.0,73.3 L268.0,72.7 L272.0,72.1 L276.0,71.5 L280.0,71.0 L284.0,70.5 L288.0,70.1 L292.0,69.7 L296.0,69.3 L300.0,68.9 L304.0,68.6 L308.0,68.2 L312.0,67.9 L316.0,67.6 L320.0,67.3 L324.0,67.0 L328.0,66.7 L332.0,66.5 L336.0,66.3 L340.0,66.2 L344.0,66.0 L344.0,93.1 L340.0,93.2 L336.0,93.4 L332.0,93.6 L328.0,93.8 L324.0,93.8 L320.0,93.8 L316.0,93.9 L312.0,94.0 L308.0,94.0 L304.0,94.1 L300.0,94.3 L296.0,94.4 L292.0,94.5 L288.0,94.7 L284.0,94.9 L280.0,95.1 L276.0,95.3 L272.0,95.4 L268.0,95.6 L264.0,95.8 L260.0,96.0 L256.0,96.3 L252.0,96.6 L248.0,96.9 L244.0,97.1 L240.0,97.4 L236.0,97.7 L232.0,98.1 L228.0,98.5 L224.0,99.1 L220.0,99.7 L216.0,100.4 L212.0,101.1 L208.0,102.0 L204.0,103.0 L200.0,104.1 L196.0,105.3 L192.0,106.6 L188.0,108.0 L184.0,109.5 L180.0,111.2 L176.0,112.9 L172.0,114.8 L168.0,116.8 L164.0,118.9 L160.0,121.1 L156.0,123.4 L152.0,125.8 L148.0,128.3 L144.0,130.9 L140.0,133.5 L136.0,136.2 L132.0,139.0 L128.0,141.8 L124.0,144.6 L120.0,147.4Z M32.0,40.7 L36.0,40.7 L40.0,40.7 L44.0,40.7 L48.0,40.7 L52.0,40.7 L56.0,40.7 L60.0,40.7 L64.0,40.7 L68.0,40.7 L72.0,40.6 L76.0,40.5 L80.0,40.3 L84.0,40.2 L88.0,40.0 L92.0,39.8 L96.0,39.6 L100.0,39.3 L104.0,39.1 L108.0,38.8 L112.0,38.5 L116.0,38.1 L120.0,37.7 L124.0,37.3 L128.0,36.8 L132.0,36.4 L136.0,35.9 L140.0,35.5 L144.0,34.9 L148.0,34.3 L152.0,33.6 L156.0,32.9 L160.0,32.0 L164.0,31.1 L168.0,30.1 L172.0,29.0 L176.0,27.7 L180.0,26.4 L184.0,25.0 L188.0,23.4 L192.0,21.7 L196.0,19.9 L200.0,18.0 L204.0,16.0 L208.0,13.9 L212.0,11.6 L216.0,9.4 L220.0,7.0 L224.0,4.4 L228.0,1.8 L232.0,-0.9 L236.0,-3.6 L240.0,-6.5 L244.0,-9.6 L248.0,-12.8 L248.0,-9.0 L244.0,-5.8 L240.0,-2.7 L236.0,0.7 L232.0,4.0 L228.0,7.2 L224.0,10.4 L220.0,13.5 L216.0,16.6 L212.0,19.6 L208.0,22.5 L204.0,25.3 L200.0,28.0 L196.0,30.6 L192.0,33.1 L188.0,35.4 L184.0,37.7 L180.0,39.9 L176.0,41.9 L172.0,43.9 L168.0,45.7 L164.0,47.5 L160.0,49.1 L156.0,50.7 L152.0,52.2 L148.0,53.5 L144.0,54.8 L140.0,56.0 L136.0,57.1 L132.0,58.2 L128.0,59.1 L124.0,59.9 L120.0,60.6 L116.0,61.2 L112.0,61.8 L108.0,62.4 L104.0,62.9 L100.0,63.4 L96.0,63.7 L92.0,64.1 L88.0,64.4 L84.0,64.7 L80.0,64.9 L76.0,65.2 L72.0,65.4 L68.0,65.5 L64.0,65.7 L60.0,65.8 L56.0,66.0 L52.0,66.1 L48.0,66.1 L44.0,66.2 L40.0,66.2 L36.0,66.2 L32.0,66.2Z" fill="#301241" filter="url(#hb3_5)"/>
  <path d="M124.0,143.7 L128.0,140.3 L132.0,136.9 L136.0,133.7 L140.0,130.5 L144.0,127.4 L148.0,124.4 L152.0,121.4 L156.0,118.5 L160.0,115.7 L164.0,112.9 L168.0,110.3 L172.0,107.7 L176.0,105.3 L180.0,102.9 L184.0,100.6 L188.0,98.4 L192.0,96.4 L196.0,94.4 L200.0,92.6 L204.0,90.8 L208.0,89.2 L212.0,87.6 L216.0,86.1 L220.0,84.7 L224.0,83.4 L228.0,82.2 L232.0,81.1 L236.0,80.0 L240.0,78.9 L244.0,78.0 L248.0,77.1 L252.0,76.2 L256.0,75.5 L260.0,74.8 L264.0,74.2 L268.0,73.5 L272.0,72.9 L276.0,72.4 L280.0,71.9 L284.0,71.4 L288.0,71.0 L292.0,70.6 L296.0,70.2 L300.0,69.8 L304.0,69.5 L308.0,69.1 L312.0,68.8 L316.0,68.5 L320.0,68.2 L324.0,67.9 L328.0,67.7 L332.0,67.5 L336.0,67.3 L340.0,67.1 L344.0,67.0 L344.0,91.1 L340.0,91.3 L336.0,91.5 L332.0,91.6 L328.0,91.8 L324.0,91.9 L320.0,91.9 L316.0,92.0 L312.0,92.1 L308.0,92.2 L304.0,92.3 L300.0,92.4 L296.0,92.6 L292.0,92.8 L288.0,93.0 L284.0,93.2 L280.0,93.4 L276.0,93.6 L272.0,93.7 L268.0,93.9 L264.0,94.2 L260.0,94.4 L256.0,94.8 L252.0,95.1 L248.0,95.4 L244.0,95.7 L240.0,96.0 L236.0,96.4 L232.0,96.8 L228.0,97.3 L224.0,97.9 L220.0,98.5 L216.0,99.3 L212.0,100.1 L208.0,101.0 L204.0,102.1 L200.0,103.2 L196.0,104.4 L192.0,105.8 L188.0,107.2 L184.0,108.8 L180.0,110.5 L176.0,112.3 L172.0,114.2 L168.0,116.3 L164.0,118.4 L160.0,120.7 L156.0,123.0 L152.0,125.4 L148.0,127.9 L144.0,130.5 L140.0,133.2 L136.0,135.9 L132.0,138.7 L128.0,141.5 L124.0,144.1Z M32.0,41.9 L36.0,41.9 L40.0,41.9 L44.0,41.9 L48.0,42.0 L52.0,42.0 L56.0,42.0 L60.0,42.0 L64.0,41.9 L68.0,41.9 L72.0,41.8 L76.0,41.7 L80.0,41.6 L84.0,41.4 L88.0,41.2 L92.0,41.0 L96.0,40.8 L100.0,40.5 L104.0,40.2 L108.0,40.0 L112.0,39.6 L116.0,39.3 L120.0,38.9 L124.0,38.4 L128.0,37.9 L132.0,37.4 L136.0,37.0 L140.0,36.5 L144.0,35.9 L148.0,35.3 L152.0,34.5 L156.0,33.8 L160.0,32.9 L164.0,31.9 L168.0,30.9 L172.0,29.7 L176.0,28.5 L180.0,27.1 L184.0,25.6 L188.0,24.0 L192.0,22.3 L196.0,20.5 L200.0,18.5 L204.0,16.5 L208.0,14.3 L212.0,12.1 L216.0,9.7 L220.0,7.3 L224.0,4.8 L228.0,2.1 L232.0,-0.6 L236.0,-3.4 L240.0,-6.2 L244.0,-9.4 L248.0,-12.6 L248.0,-9.3 L244.0,-6.1 L240.0,-3.0 L236.0,0.4 L232.0,3.7 L228.0,6.9 L224.0,10.0 L220.0,13.1 L216.0,16.2 L212.0,19.1 L208.0,22.0 L204.0,24.8 L200.0,27.4 L196.0,30.0 L192.0,32.4 L188.0,34.7 L184.0,37.0 L180.0,39.1 L176.0,41.1 L172.0,43.0 L168.0,44.8 L164.0,46.5 L160.0,48.1 L156.0,49.6 L152.0,51.1 L148.0,52.4 L144.0,53.6 L140.0,54.8 L136.0,55.9 L132.0,57.0 L128.0,57.8 L124.0,58.6 L120.0,59.2 L116.0,59.9 L112.0,60.4 L108.0,61.0 L104.0,61.5 L100.0,62.0 L96.0,62.3 L92.0,62.7 L88.0,63.0 L84.0,63.2 L80.0,63.5 L76.0,63.7 L72.0,63.9 L68.0,64.1 L64.0,64.3 L60.0,64.4 L56.0,64.5 L52.0,64.6 L48.0,64.7 L44.0,64.7 L40.0,64.7 L36.0,64.7 L32.0,64.7Z" fill="#36144a" filter="url(#hb3_5)"/>
  <path d="M128.0,140.5 L132.0,137.1 L136.0,133.8 L140.0,130.7 L144.0,127.5 L148.0,124.5 L152.0,121.5 L156.0,118.6 L160.0,115.8 L164.0,113.0 L168.0,110.4 L172.0,107.8 L176.0,105.3 L180.0,103.0 L184.0,100.7 L188.0,98.5 L192.0,96.5 L196.0,94.5 L200.0,92.7 L204.0,90.9 L208.0,89.3 L212.0,87.7 L216.0,86.3 L220.0,84.9 L224.0,83.6 L228.0,82.3 L232.0,81.2 L236.0,80.1 L240.0,79.1 L244.0,78.1 L248.0,77.2 L252.0,76.4 L256.0,75.7 L260.0,75.0 L264.0,74.3 L268.0,73.7 L272.0,73.1 L276.0,72.6 L280.0,72.0 L284.0,71.6 L288.0,71.2 L292.0,70.8 L296.0,70.4 L300.0,70.0 L304.0,69.7 L308.0,69.3 L312.0,69.0 L316.0,68.7 L320.0,68.4 L324.0,68.1 L328.0,67.9 L332.0,67.7 L336.0,67.5 L340.0,67.3 L344.0,67.2 L344.0,85.8 L340.0,85.9 L336.0,86.1 L332.0,86.3 L328.0,86.5 L324.0,86.6 L320.0,86.7 L316.0,86.8 L312.0,86.9 L308.0,87.1 L304.0,87.3 L300.0,87.4 L296.0,87.6 L292.0,87.8 L288.0,88.1 L284.0,88.3 L280.0,88.6 L276.0,88.9 L272.0,89.1 L268.0,89.4 L264.0,89.7 L260.0,90.1 L256.0,90.5 L252.0,90.9 L248.0,91.3 L244.0,91.7 L240.0,92.2 L236.0,92.7 L232.0,93.3 L228.0,94.0 L224.0,94.7 L220.0,95.5 L216.0,96.3 L212.0,97.3 L208.0,98.4 L204.0,99.5 L200.0,100.8 L196.0,102.2 L192.0,103.7 L188.0,105.3 L184.0,107.0 L180.0,108.8 L176.0,110.7 L172.0,112.7 L168.0,114.9 L164.0,117.1 L160.0,119.5 L156.0,121.9 L152.0,124.4 L148.0,127.0 L144.0,129.7 L140.0,132.5 L136.0,135.3 L132.0,138.1 L128.0,140.9Z M32.0,43.7 L36.0,43.7 L40.0,43.7 L44.0,43.7 L48.0,43.7 L52.0,43.7 L56.0,43.7 L60.0,43.7 L64.0,43.6 L68.0,43.6 L72.0,43.5 L76.0,43.4 L80.0,43.2 L84.0,43.1 L88.0,42.9 L92.0,42.7 L96.0,42.4 L100.0,42.1 L104.0,41.9 L108.0,41.6 L112.0,41.2 L116.0,40.8 L120.0,40.4 L124.0,39.9 L128.0,39.4 L132.0,38.9 L136.0,38.4 L140.0,37.9 L144.0,37.3 L148.0,36.6 L152.0,35.8 L156.0,35.0 L160.0,34.1 L164.0,33.1 L168.0,31.9 L172.0,30.7 L176.0,29.4 L180.0,28.0 L184.0,26.5 L188.0,24.8 L192.0,23.1 L196.0,21.2 L200.0,19.2 L204.0,17.1 L208.0,14.9 L212.0,12.6 L216.0,10.3 L220.0,7.8 L224.0,5.2 L228.0,2.5 L232.0,-0.2 L236.0,-3.0 L240.0,-5.9 L244.0,-9.1 L248.0,-12.3 L248.0,-9.8 L244.0,-6.6 L240.0,-3.5 L236.0,-0.2 L232.0,3.1 L228.0,6.2 L224.0,9.3 L220.0,12.4 L216.0,15.3 L212.0,18.2 L208.0,21.0 L204.0,23.7 L200.0,26.3 L196.0,28.8 L192.0,31.1 L188.0,33.4 L184.0,35.5 L180.0,37.6 L176.0,39.5 L172.0,41.4 L168.0,43.1 L164.0,44.7 L160.0,46.2 L156.0,47.7 L152.0,49.0 L148.0,50.3 L144.0,51.4 L140.0,52.5 L136.0,53.6 L132.0,54.5 L128.0,55.4 L124.0,56.1 L120.0,56.7 L116.0,57.3 L112.0,57.9 L108.0,58.4 L104.0,58.9 L100.0,59.3 L96.0,59.7 L92.0,60.0 L88.0,60.3 L84.0,60.5 L80.0,60.8 L76.0,61.0 L72.0,61.2 L68.0,61.4 L64.0,61.5 L60.0,61.6 L56.0,61.7 L52.0,61.8 L48.0,61.9 L44.0,61.9 L40.0,61.9 L36.0,61.9 L32.0,61.9Z" fill="#3f1755" filter="url(#hb2_5)"/>
  <path d="M132.0,137.4 L136.0,134.0 L140.0,130.8 L144.0,127.7 L148.0,124.7 L152.0,121.7 L156.0,118.8 L160.0,116.0 L164.0,113.3 L168.0,110.6 L172.0,108.1 L176.0,105.6 L180.0,103.3 L184.0,101.0 L188.0,98.9 L192.0,96.9 L196.0,94.9 L200.0,93.1 L204.0,91.4 L208.0,89.7 L212.0,88.2 L216.0,86.7 L220.0,85.4 L224.0,84.1 L228.0,82.9 L232.0,81.8 L236.0,80.7 L240.0,79.7 L244.0,78.8 L248.0,77.9 L252.0,77.1 L256.0,76.4 L260.0,75.7 L264.0,75.1 L268.0,74.5 L272.0,73.9 L276.0,73.3 L280.0,72.8 L284.0,72.4 L288.0,72.0 L292.0,71.6 L296.0,71.2 L300.0,70.8 L304.0,70.5 L308.0,70.2 L312.0,69.9 L316.0,69.6 L320.0,69.3 L324.0,69.0 L328.0,68.7 L332.0,68.6 L336.0,68.4 L340.0,68.2 L344.0,68.0 L344.0,84.6 L340.0,84.7 L336.0,84.9 L332.0,85.1 L328.0,85.3 L324.0,85.4 L320.0,85.5 L316.0,85.6 L312.0,85.8 L308.0,85.9 L304.0,86.1 L300.0,86.3 L296.0,86.5 L292.0,86.7 L288.0,87.0 L284.0,87.3 L280.0,87.5 L276.0,87.8 L272.0,88.1 L268.0,88.4 L264.0,88.7 L260.0,89.1 L256.0,89.5 L252.0,90.0 L248.0,90.4 L244.0,90.8 L240.0,91.3 L236.0,91.9 L232.0,92.5 L228.0,93.2 L224.0,93.9 L220.0,94.8 L216.0,95.7 L212.0,96.7 L208.0,97.8 L204.0,99.0 L200.0,100.2 L196.0,101.6 L192.0,103.2 L188.0,104.8 L184.0,106.5 L180.0,108.4 L176.0,110.3 L172.0,112.4 L168.0,114.5 L164.0,116.8 L160.0,119.2 L156.0,121.6 L152.0,124.1 L148.0,126.8 L144.0,129.5 L140.0,132.2 L136.0,135.0 L132.0,137.8Z M32.0,44.7 L36.0,44.7 L40.0,44.7 L44.0,44.7 L48.0,44.7 L52.0,44.7 L56.0,44.7 L60.0,44.6 L64.0,44.6 L68.0,44.5 L72.0,44.4 L76.0,44.3 L80.0,44.2 L84.0,44.0 L88.0,43.8 L92.0,43.6 L96.0,43.3 L100.0,43.1 L104.0,42.8 L108.0,42.5 L112.0,42.1 L116.0,41.7 L120.0,41.3 L124.0,40.8 L128.0,40.3 L132.0,39.8 L136.0,39.3 L140.0,38.7 L144.0,38.0 L148.0,37.3 L152.0,36.5 L156.0,35.7 L160.0,34.7 L164.0,33.7 L168.0,32.6 L172.0,31.3 L176.0,30.0 L180.0,28.5 L184.0,27.0 L188.0,25.3 L192.0,23.5 L196.0,21.6 L200.0,19.6 L204.0,17.5 L208.0,15.3 L212.0,13.0 L216.0,10.6 L220.0,8.1 L224.0,5.5 L228.0,2.8 L232.0,0.0 L236.0,-2.8 L240.0,-5.7 L244.0,-8.9 L248.0,-12.1 L248.0,-10.0 L244.0,-6.8 L240.0,-3.7 L236.0,-0.4 L232.0,2.8 L228.0,6.0 L224.0,9.0 L220.0,12.0 L216.0,15.0 L212.0,17.9 L208.0,20.6 L204.0,23.3 L200.0,25.8 L196.0,28.3 L192.0,30.6 L188.0,32.9 L184.0,35.0 L180.0,37.0 L176.0,38.9 L172.0,40.7 L168.0,42.4 L164.0,44.0 L160.0,45.5 L156.0,46.9 L152.0,48.2 L148.0,49.5 L144.0,50.6 L140.0,51.7 L136.0,52.7 L132.0,53.6 L128.0,54.4 L124.0,55.1 L120.0,55.8 L116.0,56.3 L112.0,56.9 L108.0,57.4 L104.0,57.9 L100.0,58.3 L96.0,58.6 L92.0,59.0 L88.0,59.3 L84.0,59.5 L80.0,59.8 L76.0,60.0 L72.0,60.2 L68.0,60.3 L64.0,60.5 L60.0,60.6 L56.0,60.7 L52.0,60.7 L48.0,60.8 L44.0,60.8 L40.0,60.8 L36.0,60.8 L32.0,60.8Z" fill="#471a61" filter="url(#hb2_5)"/>
  <path d="M140.0,131.1 L144.0,128.0 L148.0,124.9 L152.0,122.0 L156.0,119.1 L160.0,116.2 L164.0,113.5 L168.0,110.9 L172.0,108.4 L176.0,105.9 L180.0,103.6 L184.0,101.4 L188.0,99.2 L192.0,97.2 L196.0,95.3 L200.0,93.5 L204.0,91.8 L208.0,90.2 L212.0,88.7 L216.0,87.3 L220.0,85.9 L224.0,84.7 L228.0,83.5 L232.0,82.4 L236.0,81.3 L240.0,80.4 L244.0,79.5 L248.0,78.6 L252.0,77.8 L256.0,77.1 L260.0,76.4 L264.0,75.8 L268.0,75.2 L272.0,74.7 L276.0,74.1 L280.0,73.6 L284.0,73.2 L288.0,72.8 L292.0,72.4 L296.0,72.0 L300.0,71.7 L304.0,71.4 L308.0,71.0 L312.0,70.7 L316.0,70.4 L320.0,70.2 L324.0,69.9 L328.0,69.6 L332.0,69.5 L336.0,69.3 L340.0,69.1 L344.0,68.9 L344.0,83.3 L340.0,83.5 L336.0,83.7 L332.0,83.8 L328.0,84.0 L324.0,84.1 L320.0,84.3 L316.0,84.4 L312.0,84.6 L308.0,84.8 L304.0,84.9 L300.0,85.1 L296.0,85.4 L292.0,85.6 L288.0,85.9 L284.0,86.1 L280.0,86.4 L276.0,86.7 L272.0,87.0 L268.0,87.3 L264.0,87.7 L260.0,88.1 L256.0,88.5 L252.0,89.0 L248.0,89.5 L244.0,89.9 L240.0,90.4 L236.0,91.0 L232.0,91.7 L228.0,92.4 L224.0,93.2 L220.0,94.0 L216.0,95.0 L212.0,96.0 L208.0,97.1 L204.0,98.3 L200.0,99.7 L196.0,101.1 L192.0,102.6 L188.0,104.3 L184.0,106.1 L180.0,107.9 L176.0,109.9 L172.0,112.0 L168.0,114.2 L164.0,116.5 L160.0,118.8 L156.0,121.3 L152.0,123.8 L148.0,126.5 L144.0,129.2 L140.0,131.9Z M32.0,45.7 L36.0,45.7 L40.0,45.7 L44.0,45.7 L48.0,45.7 L52.0,45.7 L56.0,45.7 L60.0,45.6 L64.0,45.6 L68.0,45.5 L72.0,45.4 L76.0,45.3 L80.0,45.1 L84.0,45.0 L88.0,44.8 L92.0,44.5 L96.0,44.3 L100.0,44.0 L104.0,43.7 L108.0,43.4 L112.0,43.0 L116.0,42.6 L120.0,42.2 L124.0,41.7 L128.0,41.2 L132.0,40.6 L136.0,40.1 L140.0,39.5 L144.0,38.8 L148.0,38.1 L152.0,37.3 L156.0,36.4 L160.0,35.4 L164.0,34.3 L168.0,33.2 L172.0,31.9 L176.0,30.6 L180.0,29.1 L184.0,27.5 L188.0,25.8 L192.0,24.0 L196.0,22.1 L200.0,20.0 L204.0,17.9 L208.0,15.7 L212.0,13.3 L216.0,10.9 L220.0,8.4 L224.0,5.8 L228.0,3.0 L232.0,0.3 L236.0,-2.6 L240.0,-5.5 L244.0,-8.6 L248.0,-11.8 L248.0,-10.3 L244.0,-7.1 L240.0,-3.9 L236.0,-0.6 L232.0,2.6 L228.0,5.7 L224.0,8.7 L220.0,11.7 L216.0,14.6 L212.0,17.5 L208.0,20.2 L204.0,22.9 L200.0,25.4 L196.0,27.8 L192.0,30.1 L188.0,32.3 L184.0,34.4 L180.0,36.4 L176.0,38.3 L172.0,40.1 L168.0,41.7 L164.0,43.3 L160.0,44.8 L156.0,46.1 L152.0,47.4 L148.0,48.6 L144.0,49.7 L140.0,50.8 L136.0,51.8 L132.0,52.7 L128.0,53.5 L124.0,54.1 L120.0,54.8 L116.0,55.3 L112.0,55.9 L108.0,56.4 L104.0,56.8 L100.0,57.3 L96.0,57.6 L92.0,57.9 L88.0,58.2 L84.0,58.5 L80.0,58.7 L76.0,58.9 L72.0,59.1 L68.0,59.2 L64.0,59.4 L60.0,59.5 L56.0,59.6 L52.0,59.7 L48.0,59.7 L44.0,59.7 L40.0,59.7 L36.0,59.7 L32.0,59.7Z" fill="#531e70" filter="url(#hb2_5)"/>
  <path d="M144.0,128.3 L148.0,125.2 L152.0,122.2 L156.0,119.3 L160.0,116.5 L164.0,113.8 L168.0,111.2 L172.0,108.6 L176.0,106.2 L180.0,103.9 L184.0,101.7 L188.0,99.6 L192.0,97.6 L196.0,95.7 L200.0,93.9 L204.0,92.2 L208.0,90.6 L212.0,89.1 L216.0,87.7 L220.0,86.4 L224.0,85.2 L228.0,84.0 L232.0,83.0 L236.0,81.9 L240.0,81.0 L244.0,80.1 L248.0,79.2 L252.0,78.5 L256.0,77.8 L260.0,77.1 L264.0,76.5 L268.0,75.9 L272.0,75.4 L276.0,74.9 L280.0,74.4 L284.0,74.0 L288.0,73.6 L292.0,73.2 L296.0,72.8 L300.0,72.5 L304.0,72.2 L308.0,71.9 L312.0,71.6 L316.0,71.3 L320.0,71.0 L324.0,70.7 L328.0,70.5 L332.0,70.3 L336.0,70.1 L340.0,70.0 L344.0,69.8 L344.0,82.2 L340.0,82.3 L336.0,82.5 L332.0,82.7 L328.0,82.9 L324.0,83.0 L320.0,83.1 L316.0,83.3 L312.0,83.5 L308.0,83.6 L304.0,83.8 L300.0,84.1 L296.0,84.3 L292.0,84.5 L288.0,84.8 L284.0,85.1 L280.0,85.4 L276.0,85.7 L272.0,86.0 L268.0,86.3 L264.0,86.7 L260.0,87.1 L256.0,87.6 L252.0,88.1 L248.0,88.6 L244.0,89.1 L240.0,89.6 L236.0,90.2 L232.0,90.9 L228.0,91.6 L224.0,92.5 L220.0,93.3 L216.0,94.3 L212.0,95.4 L208.0,96.5 L204.0,97.8 L200.0,99.1 L196.0,100.6 L192.0,102.1 L188.0,103.8 L184.0,105.6 L180.0,107.5 L176.0,109.5 L172.0,111.6 L168.0,113.8 L164.0,116.1 L160.0,118.5 L156.0,121.0 L152.0,123.5 L148.0,126.1 L144.0,128.7Z M32.0,46.6 L36.0,46.6 L40.0,46.6 L44.0,46.6 L48.0,46.6 L52.0,46.6 L56.0,46.6 L60.0,46.6 L64.0,46.5 L68.0,46.4 L72.0,46.3 L76.0,46.2 L80.0,46.0 L84.0,45.9 L88.0,45.7 L92.0,45.4 L96.0,45.2 L100.0,44.9 L104.0,44.6 L108.0,44.3 L112.0,43.9 L116.0,43.5 L120.0,43.0 L124.0,42.5 L128.0,42.0 L132.0,41.4 L136.0,40.9 L140.0,40.3 L144.0,39.6 L148.0,38.8 L152.0,38.0 L156.0,37.1 L160.0,36.1 L164.0,35.0 L168.0,33.8 L172.0,32.5 L176.0,31.1 L180.0,29.6 L184.0,28.0 L188.0,26.3 L192.0,24.4 L196.0,22.5 L200.0,20.4 L204.0,18.3 L208.0,16.0 L212.0,13.7 L216.0,11.2 L220.0,8.7 L224.0,6.0 L228.0,3.3 L232.0,0.5 L236.0,-2.3 L240.0,-5.2 L244.0,-8.4 L248.0,-11.6 L248.0,-10.5 L244.0,-7.3 L240.0,-4.2 L236.0,-0.9 L232.0,2.3 L228.0,5.4 L224.0,8.4 L220.0,11.4 L216.0,14.3 L212.0,17.1 L208.0,19.8 L204.0,22.4 L200.0,24.9 L196.0,27.3 L192.0,29.6 L188.0,31.8 L184.0,33.9 L180.0,35.8 L176.0,37.7 L172.0,39.4 L168.0,41.1 L164.0,42.6 L160.0,44.1 L156.0,45.4 L152.0,46.7 L148.0,47.8 L144.0,48.9 L140.0,49.9 L136.0,50.9 L132.0,51.8 L128.0,52.6 L124.0,53.2 L120.0,53.8 L116.0,54.4 L112.0,54.9 L108.0,55.4 L104.0,55.9 L100.0,56.3 L96.0,56.6 L92.0,56.9 L88.0,57.2 L84.0,57.5 L80.0,57.7 L76.0,57.9 L72.0,58.1 L68.0,58.2 L64.0,58.4 L60.0,58.5 L56.0,58.6 L52.0,58.6 L48.0,58.7 L44.0,58.7 L40.0,58.7 L36.0,58.7 L32.0,58.7Z" fill="#612480" filter="url(#hb1_6)"/>
  <path d="M152.0,122.5 L156.0,119.5 L160.0,116.7 L164.0,114.0 L168.0,111.4 L172.0,108.9 L176.0,106.4 L180.0,104.1 L184.0,101.9 L188.0,99.8 L192.0,97.8 L196.0,96.0 L200.0,94.2 L204.0,92.5 L208.0,90.9 L212.0,89.4 L216.0,88.1 L220.0,86.7 L224.0,85.5 L228.0,84.4 L232.0,83.3 L236.0,82.3 L240.0,81.4 L244.0,80.5 L248.0,79.6 L252.0,78.9 L256.0,78.2 L260.0,77.6 L264.0,77.0 L268.0,76.4 L272.0,75.9 L276.0,75.3 L280.0,74.9 L284.0,74.4 L288.0,74.0 L292.0,73.7 L296.0,73.3 L300.0,73.0 L304.0,72.7 L308.0,72.3 L312.0,72.1 L316.0,71.8 L320.0,71.5 L324.0,71.3 L328.0,71.0 L332.0,70.8 L336.0,70.6 L340.0,70.5 L344.0,70.3 L344.0,79.7 L340.0,79.9 L336.0,80.1 L332.0,80.2 L328.0,80.4 L324.0,80.6 L320.0,80.7 L316.0,80.9 L312.0,81.1 L308.0,81.3 L304.0,81.5 L300.0,81.8 L296.0,82.0 L292.0,82.3 L288.0,82.6 L284.0,82.9 L280.0,83.2 L276.0,83.5 L272.0,83.9 L268.0,84.3 L264.0,84.7 L260.0,85.1 L256.0,85.6 L252.0,86.2 L248.0,86.7 L244.0,87.3 L240.0,87.9 L236.0,88.6 L232.0,89.3 L228.0,90.1 L224.0,91.0 L220.0,91.9 L216.0,93.0 L212.0,94.1 L208.0,95.3 L204.0,96.6 L200.0,98.0 L196.0,99.6 L192.0,101.2 L188.0,102.9 L184.0,104.8 L180.0,106.7 L176.0,108.8 L172.0,110.9 L168.0,113.2 L164.0,115.5 L160.0,118.0 L156.0,120.5 L152.0,123.0Z M32.0,47.7 L36.0,47.7 L40.0,47.7 L44.0,47.7 L48.0,47.7 L52.0,47.7 L56.0,47.7 L60.0,47.6 L64.0,47.6 L68.0,47.5 L72.0,47.4 L76.0,47.2 L80.0,47.1 L84.0,46.9 L88.0,46.7 L92.0,46.5 L96.0,46.2 L100.0,45.9 L104.0,45.6 L108.0,45.3 L112.0,44.9 L116.0,44.5 L120.0,44.0 L124.0,43.5 L128.0,42.9 L132.0,42.4 L136.0,41.8 L140.0,41.1 L144.0,40.4 L148.0,39.6 L152.0,38.7 L156.0,37.8 L160.0,36.8 L164.0,35.7 L168.0,34.5 L172.0,33.1 L176.0,31.7 L180.0,30.2 L184.0,28.6 L188.0,26.8 L192.0,24.9 L196.0,23.0 L200.0,20.9 L204.0,18.7 L208.0,16.4 L212.0,14.0 L216.0,11.6 L220.0,9.0 L224.0,6.3 L228.0,3.6 L232.0,0.8 L236.0,-2.0 L236.0,-1.3 L232.0,1.9 L228.0,5.0 L224.0,8.0 L220.0,10.9 L216.0,13.8 L212.0,16.6 L208.0,19.3 L204.0,21.8 L200.0,24.3 L196.0,26.6 L192.0,28.9 L188.0,31.0 L184.0,33.0 L180.0,35.0 L176.0,36.8 L172.0,38.5 L168.0,40.1 L164.0,41.6 L160.0,43.0 L156.0,44.3 L152.0,45.5 L148.0,46.6 L144.0,47.7 L140.0,48.6 L136.0,49.5 L132.0,50.4 L128.0,51.1 L124.0,51.8 L120.0,52.4 L116.0,52.9 L112.0,53.5 L108.0,53.9 L104.0,54.4 L100.0,54.8 L96.0,55.1 L92.0,55.4 L88.0,55.7 L84.0,55.9 L80.0,56.1 L76.0,56.3 L72.0,56.5 L68.0,56.7 L64.0,56.8 L60.0,56.9 L56.0,57.0 L52.0,57.0 L48.0,57.1 L44.0,57.1 L40.0,57.1 L36.0,57.1 L32.0,57.1Z" fill="#742975" filter="url(#hb1_6)"/>
  <path d="M160.0,117.0 L164.0,114.3 L168.0,111.6 L172.0,109.1 L176.0,106.7 L180.0,104.4 L184.0,102.2 L188.0,100.1 L192.0,98.2 L196.0,96.3 L200.0,94.5 L204.0,92.9 L208.0,91.3 L212.0,89.8 L216.0,88.5 L220.0,87.2 L224.0,86.0 L228.0,84.8 L232.0,83.8 L236.0,82.8 L240.0,81.9 L244.0,81.0 L248.0,80.2 L252.0,79.4 L256.0,78.8 L260.0,78.1 L264.0,77.5 L268.0,77.0 L272.0,76.4 L276.0,76.0 L280.0,75.5 L284.0,75.1 L288.0,74.7 L292.0,74.3 L296.0,74.0 L300.0,73.6 L304.0,73.3 L308.0,73.0 L312.0,72.7 L316.0,72.4 L320.0,72.2 L324.0,71.9 L328.0,71.7 L332.0,71.5 L336.0,71.3 L340.0,71.2 L344.0,71.0 L344.0,79.0 L340.0,79.2 L336.0,79.4 L332.0,79.5 L328.0,79.7 L324.0,79.9 L320.0,80.1 L316.0,80.2 L312.0,80.4 L308.0,80.7 L304.0,80.9 L300.0,81.1 L296.0,81.4 L292.0,81.7 L288.0,81.9 L284.0,82.3 L280.0,82.6 L276.0,82.9 L272.0,83.3 L268.0,83.7 L264.0,84.1 L260.0,84.6 L256.0,85.1 L252.0,85.6 L248.0,86.2 L244.0,86.8 L240.0,87.4 L236.0,88.1 L232.0,88.8 L228.0,89.7 L224.0,90.6 L220.0,91.5 L216.0,92.6 L212.0,93.7 L208.0,94.9 L204.0,96.3 L200.0,97.7 L196.0,99.2 L192.0,100.9 L188.0,102.6 L184.0,104.5 L180.0,106.4 L176.0,108.5 L172.0,110.7 L168.0,112.9 L164.0,115.3 L160.0,117.7Z M32.0,48.3 L36.0,48.3 L40.0,48.3 L44.0,48.3 L48.0,48.3 L52.0,48.4 L56.0,48.3 L60.0,48.3 L64.0,48.2 L68.0,48.1 L72.0,48.0 L76.0,47.9 L80.0,47.7 L84.0,47.6 L88.0,47.3 L92.0,47.1 L96.0,46.8 L100.0,46.5 L104.0,46.2 L108.0,45.9 L112.0,45.5 L116.0,45.1 L120.0,44.6 L124.0,44.1 L128.0,43.5 L132.0,43.0 L136.0,42.4 L140.0,41.7 L144.0,40.9 L148.0,40.1 L152.0,39.3 L156.0,38.3 L160.0,37.3 L164.0,36.1 L168.0,34.9 L172.0,33.6 L176.0,32.1 L180.0,30.6 L184.0,28.9 L188.0,27.2 L192.0,25.3 L196.0,23.3 L200.0,21.2 L204.0,19.0 L208.0,16.7 L212.0,14.3 L216.0,11.8 L220.0,9.3 L224.0,6.6 L228.0,3.9 L232.0,1.1 L232.0,1.6 L228.0,4.7 L224.0,7.8 L220.0,10.7 L216.0,13.6 L212.0,16.3 L208.0,19.0 L204.0,21.5 L200.0,24.0 L196.0,26.3 L192.0,28.5 L188.0,30.7 L184.0,32.7 L180.0,34.6 L176.0,36.4 L172.0,38.1 L168.0,39.6 L164.0,41.1 L160.0,42.5 L156.0,43.8 L152.0,45.0 L148.0,46.1 L144.0,47.1 L140.0,48.1 L136.0,49.0 L132.0,49.8 L128.0,50.5 L124.0,51.2 L120.0,51.8 L116.0,52.3 L112.0,52.8 L108.0,53.3 L104.0,53.7 L100.0,54.1 L96.0,54.4 L92.0,54.7 L88.0,55.0 L84.0,55.3 L80.0,55.5 L76.0,55.7 L72.0,55.8 L68.0,56.0 L64.0,56.1 L60.0,56.2 L56.0,56.3 L52.0,56.3 L48.0,56.4 L44.0,56.4 L40.0,56.4 L36.0,56.4 L32.0,56.4Z" fill="#8a3068" filter="url(#hb1_6)"/>
  <path d="M168.0,112.0 L172.0,109.4 L176.0,107.0 L180.0,104.7 L184.0,102.5 L188.0,100.4 L192.0,98.4 L196.0,96.6 L200.0,94.8 L204.0,93.2 L208.0,91.6 L212.0,90.2 L216.0,88.8 L220.0,87.5 L224.0,86.3 L228.0,85.2 L232.0,84.2 L236.0,83.2 L240.0,82.3 L244.0,81.4 L248.0,80.6 L252.0,79.9 L256.0,79.2 L260.0,78.6 L264.0,78.0 L268.0,77.5 L272.0,77.0 L276.0,76.5 L280.0,76.0 L284.0,75.6 L288.0,75.2 L292.0,74.8 L296.0,74.5 L300.0,74.2 L304.0,73.9 L308.0,73.6 L312.0,73.3 L316.0,73.0 L320.0,72.8 L324.0,72.5 L328.0,72.3 L332.0,72.1 L336.0,71.9 L340.0,71.7 L344.0,71.6 L344.0,78.4 L340.0,78.6 L336.0,78.8 L332.0,79.0 L328.0,79.1 L324.0,79.3 L320.0,79.5 L316.0,79.7 L312.0,79.9 L308.0,80.1 L304.0,80.3 L300.0,80.6 L296.0,80.8 L292.0,81.1 L288.0,81.4 L284.0,81.7 L280.0,82.1 L276.0,82.4 L272.0,82.8 L268.0,83.2 L264.0,83.6 L260.0,84.1 L256.0,84.6 L252.0,85.1 L248.0,85.7 L244.0,86.3 L240.0,87.0 L236.0,87.7 L232.0,88.4 L228.0,89.3 L224.0,90.2 L220.0,91.2 L216.0,92.2 L212.0,93.4 L208.0,94.6 L204.0,96.0 L200.0,97.4 L196.0,98.9 L192.0,100.6 L188.0,102.3 L184.0,104.2 L180.0,106.2 L176.0,108.2 L172.0,110.4 L168.0,112.6Z M32.0,48.9 L36.0,48.9 L40.0,48.9 L44.0,48.9 L48.0,48.9 L52.0,48.9 L56.0,48.9 L60.0,48.9 L64.0,48.8 L68.0,48.7 L72.0,48.6 L76.0,48.5 L80.0,48.3 L84.0,48.1 L88.0,47.9 L92.0,47.7 L96.0,47.4 L100.0,47.1 L104.0,46.8 L108.0,46.4 L112.0,46.0 L116.0,45.6 L120.0,45.1 L124.0,44.6 L128.0,44.1 L132.0,43.5 L136.0,42.9 L140.0,42.2 L144.0,41.4 L148.0,40.6 L152.0,39.7 L156.0,38.7 L160.0,37.7 L164.0,36.5 L168.0,35.3 L172.0,33.9 L176.0,32.5 L180.0,30.9 L184.0,29.3 L188.0,27.5 L192.0,25.6 L196.0,23.6 L200.0,21.5 L204.0,19.3 L208.0,17.0 L212.0,14.6 L216.0,12.1 L220.0,9.5 L224.0,6.9 L224.0,7.4 L220.0,10.4 L216.0,13.3 L212.0,16.1 L208.0,18.7 L204.0,21.3 L200.0,23.7 L196.0,26.0 L192.0,28.2 L188.0,30.3 L184.0,32.3 L180.0,34.2 L176.0,36.0 L172.0,37.7 L168.0,39.2 L164.0,40.7 L160.0,42.1 L156.0,43.3 L152.0,44.5 L148.0,45.6 L144.0,46.6 L140.0,47.6 L136.0,48.5 L132.0,49.3 L128.0,50.0 L124.0,50.7 L120.0,51.2 L116.0,51.8 L112.0,52.3 L108.0,52.7 L104.0,53.2 L100.0,53.6 L96.0,53.9 L92.0,54.2 L88.0,54.5 L84.0,54.7 L80.0,54.9 L76.0,55.1 L72.0,55.3 L68.0,55.4 L64.0,55.5 L60.0,55.6 L56.0,55.7 L52.0,55.8 L48.0,55.8 L44.0,55.8 L40.0,55.8 L36.0,55.8 L32.0,55.8Z" fill="#a4375a" filter="url(#hb1_0)"/>
  <path d="M176.0,107.3 L180.0,105.0 L184.0,102.8 L188.0,100.7 L192.0,98.7 L196.0,96.9 L200.0,95.1 L204.0,93.5 L208.0,91.9 L212.0,90.5 L216.0,89.1 L220.0,87.8 L224.0,86.7 L228.0,85.6 L232.0,84.5 L236.0,83.6 L240.0,82.7 L244.0,81.8 L248.0,81.0 L252.0,80.3 L256.0,79.6 L260.0,79.0 L264.0,78.5 L268.0,77.9 L272.0,77.4 L276.0,76.9 L280.0,76.5 L284.0,76.1 L288.0,75.7 L292.0,75.3 L296.0,75.0 L300.0,74.6 L304.0,74.3 L308.0,74.0 L312.0,73.8 L316.0,73.5 L320.0,73.3 L324.0,73.0 L328.0,72.8 L332.0,72.6 L336.0,72.4 L340.0,72.2 L344.0,72.1 L344.0,77.9 L340.0,78.1 L336.0,78.3 L332.0,78.5 L328.0,78.6 L324.0,78.8 L320.0,79.0 L316.0,79.2 L312.0,79.4 L308.0,79.6 L304.0,79.8 L300.0,80.1 L296.0,80.4 L292.0,80.6 L288.0,80.9 L284.0,81.3 L280.0,81.6 L276.0,82.0 L272.0,82.4 L268.0,82.8 L264.0,83.2 L260.0,83.7 L256.0,84.2 L252.0,84.7 L248.0,85.3 L244.0,85.9 L240.0,86.6 L236.0,87.3 L232.0,88.1 L228.0,88.9 L224.0,89.9 L220.0,90.8 L216.0,91.9 L212.0,93.1 L208.0,94.3 L204.0,95.7 L200.0,97.1 L196.0,98.7 L192.0,100.3 L188.0,102.1 L184.0,103.9 L180.0,105.9 L176.0,107.9Z M32.0,49.4 L36.0,49.4 L40.0,49.4 L44.0,49.4 L48.0,49.4 L52.0,49.4 L56.0,49.4 L60.0,49.4 L64.0,49.3 L68.0,49.2 L72.0,49.1 L76.0,49.0 L80.0,48.8 L84.0,48.6 L88.0,48.4 L92.0,48.1 L96.0,47.9 L100.0,47.6 L104.0,47.3 L108.0,46.9 L112.0,46.5 L116.0,46.1 L120.0,45.6 L124.0,45.1 L128.0,44.5 L132.0,43.9 L136.0,43.3 L140.0,42.6 L144.0,41.8 L148.0,41.0 L152.0,40.1 L156.0,39.1 L160.0,38.0 L164.0,36.9 L168.0,35.6 L172.0,34.3 L176.0,32.8 L180.0,31.2 L184.0,29.6 L188.0,27.8 L192.0,25.9 L196.0,23.9 L200.0,21.7 L204.0,19.5 L208.0,17.2 L212.0,14.8 L216.0,12.4 L216.0,13.0 L212.0,15.8 L208.0,18.5 L204.0,21.0 L200.0,23.4 L196.0,25.8 L192.0,28.0 L188.0,30.1 L184.0,32.1 L180.0,33.9 L176.0,35.7 L172.0,37.4 L168.0,38.9 L164.0,40.4 L160.0,41.7 L156.0,43.0 L152.0,44.2 L148.0,45.2 L144.0,46.2 L140.0,47.2 L136.0,48.0 L132.0,48.8 L128.0,49.6 L124.0,50.2 L120.0,50.8 L116.0,51.3 L112.0,51.8 L108.0,52.3 L104.0,52.7 L100.0,53.1 L96.0,53.4 L92.0,53.7 L88.0,54.0 L84.0,54.2 L80.0,54.4 L76.0,54.6 L72.0,54.8 L68.0,54.9 L64.0,55.0 L60.0,55.1 L56.0,55.2 L52.0,55.3 L48.0,55.3 L44.0,55.3 L40.0,55.3 L36.0,55.3 L32.0,55.3Z" fill="#c1404a" filter="url(#hb1_0)"/>
  <path d="M184.0,103.1 L188.0,101.0 L192.0,99.0 L196.0,97.1 L200.0,95.4 L204.0,93.7 L208.0,92.2 L212.0,90.7 L216.0,89.4 L220.0,88.1 L224.0,87.0 L228.0,85.9 L232.0,84.8 L236.0,83.9 L240.0,83.0 L244.0,82.2 L248.0,81.4 L252.0,80.7 L256.0,80.0 L260.0,79.4 L264.0,78.8 L268.0,78.3 L272.0,77.8 L276.0,77.3 L280.0,76.8 L284.0,76.4 L288.0,76.1 L292.0,75.7 L296.0,75.4 L300.0,75.1 L304.0,74.7 L308.0,74.5 L312.0,74.2 L316.0,73.9 L320.0,73.7 L324.0,73.4 L328.0,73.2 L332.0,73.0 L336.0,72.8 L340.0,72.7 L344.0,72.5 L344.0,77.5 L340.0,77.7 L336.0,77.8 L332.0,78.0 L328.0,78.2 L324.0,78.4 L320.0,78.6 L316.0,78.8 L312.0,79.0 L308.0,79.2 L304.0,79.4 L300.0,79.7 L296.0,80.0 L292.0,80.2 L288.0,80.6 L284.0,80.9 L280.0,81.2 L276.0,81.6 L272.0,82.0 L268.0,82.4 L264.0,82.8 L260.0,83.3 L256.0,83.8 L252.0,84.4 L248.0,85.0 L244.0,85.6 L240.0,86.3 L236.0,87.0 L232.0,87.8 L228.0,88.6 L224.0,89.6 L220.0,90.6 L216.0,91.6 L212.0,92.8 L208.0,94.1 L204.0,95.4 L200.0,96.9 L196.0,98.4 L192.0,100.0 L188.0,101.8 L184.0,103.6Z M32.0,49.9 L36.0,49.9 L40.0,49.9 L44.0,49.9 L48.0,49.9 L52.0,49.9 L56.0,49.8 L60.0,49.8 L64.0,49.7 L68.0,49.6 L72.0,49.5 L76.0,49.4 L80.0,49.2 L84.0,49.0 L88.0,48.8 L92.0,48.6 L96.0,48.3 L100.0,48.0 L104.0,47.7 L108.0,47.3 L112.0,46.9 L116.0,46.5 L120.0,46.0 L124.0,45.5 L128.0,44.9 L132.0,44.3 L136.0,43.6 L140.0,42.9 L144.0,42.2 L148.0,41.3 L152.0,40.4 L156.0,39.4 L160.0,38.3 L164.0,37.2 L168.0,35.9 L172.0,34.5 L176.0,33.1 L180.0,31.5 L184.0,29.8 L188.0,28.0 L192.0,26.1 L196.0,24.1 L200.0,22.0 L204.0,19.8 L208.0,17.5 L208.0,18.1 L204.0,20.7 L200.0,23.2 L196.0,25.5 L192.0,27.7 L188.0,29.8 L184.0,31.8 L180.0,33.7 L176.0,35.4 L172.0,37.1 L168.0,38.6 L164.0,40.1 L160.0,41.4 L156.0,42.7 L152.0,43.8 L148.0,44.9 L144.0,45.9 L140.0,46.8 L136.0,47.7 L132.0,48.5 L128.0,49.2 L124.0,49.8 L120.0,50.4 L116.0,50.9 L112.0,51.4 L108.0,51.9 L104.0,52.3 L100.0,52.7 L96.0,53.0 L92.0,53.3 L88.0,53.6 L84.0,53.8 L80.0,54.0 L76.0,54.2 L72.0,54.4 L68.0,54.5 L64.0,54.6 L60.0,54.7 L56.0,54.8 L52.0,54.8 L48.0,54.9 L44.0,54.9 L40.0,54.9 L36.0,54.9 L32.0,54.9Z" fill="#d44d39" filter="url(#hb1_0)"/>
  <path d="M196.0,97.5 L200.0,95.7 L204.0,94.0 L208.0,92.5 L212.0,91.0 L216.0,89.7 L220.0,88.4 L224.0,87.2 L228.0,86.2 L232.0,85.1 L236.0,84.2 L240.0,83.3 L244.0,82.5 L248.0,81.7 L252.0,81.0 L256.0,80.3 L260.0,79.7 L264.0,79.2 L268.0,78.6 L272.0,78.1 L276.0,77.7 L280.0,77.2 L284.0,76.8 L288.0,76.4 L292.0,76.1 L296.0,75.7 L300.0,75.4 L304.0,75.1 L308.0,74.8 L312.0,74.6 L316.0,74.3 L320.0,74.1 L324.0,73.8 L328.0,73.6 L332.0,73.4 L336.0,73.2 L340.0,73.1 L344.0,72.9 L344.0,77.1 L340.0,77.3 L336.0,77.5 L332.0,77.6 L328.0,77.8 L324.0,78.0 L320.0,78.2 L316.0,78.4 L312.0,78.6 L308.0,78.8 L304.0,79.1 L300.0,79.3 L296.0,79.6 L292.0,79.9 L288.0,80.2 L284.0,80.5 L280.0,80.9 L276.0,81.2 L272.0,81.6 L268.0,82.0 L264.0,82.5 L260.0,83.0 L256.0,83.5 L252.0,84.1 L248.0,84.6 L244.0,85.3 L240.0,85.9 L236.0,86.7 L232.0,87.5 L228.0,88.3 L224.0,89.3 L220.0,90.3 L216.0,91.4 L212.0,92.5 L208.0,93.8 L204.0,95.1 L200.0,96.5 L196.0,98.0Z M32.0,50.3 L36.0,50.3 L40.0,50.3 L44.0,50.3 L48.0,50.3 L52.0,50.3 L56.0,50.2 L60.0,50.2 L64.0,50.1 L68.0,50.0 L72.0,49.9 L76.0,49.8 L80.0,49.6 L84.0,49.4 L88.0,49.2 L92.0,48.9 L96.0,48.7 L100.0,48.4 L104.0,48.0 L108.0,47.7 L112.0,47.3 L116.0,46.8 L120.0,46.4 L124.0,45.8 L128.0,45.3 L132.0,44.6 L136.0,44.0 L140.0,43.3 L144.0,42.5 L148.0,41.7 L152.0,40.7 L156.0,39.7 L160.0,38.6 L164.0,37.5 L168.0,36.2 L172.0,34.8 L176.0,33.4 L180.0,31.8 L184.0,30.1 L188.0,28.3 L192.0,26.4 L196.0,24.4 L200.0,22.4 L200.0,22.8 L196.0,25.2 L192.0,27.4 L188.0,29.5 L184.0,31.5 L180.0,33.4 L176.0,35.1 L172.0,36.8 L168.0,38.3 L164.0,39.8 L160.0,41.1 L156.0,42.3 L152.0,43.5 L148.0,44.6 L144.0,45.6 L140.0,46.5 L136.0,47.3 L132.0,48.1 L128.0,48.8 L124.0,49.5 L120.0,50.0 L116.0,50.6 L112.0,51.1 L108.0,51.5 L104.0,51.9 L100.0,52.3 L96.0,52.6 L92.0,52.9 L88.0,53.2 L84.0,53.4 L80.0,53.6 L76.0,53.8 L72.0,54.0 L68.0,54.1 L64.0,54.2 L60.0,54.3 L56.0,54.4 L52.0,54.4 L48.0,54.5 L44.0,54.5 L40.0,54.5 L36.0,54.5 L32.0,54.5Z" fill="#e55e25" filter="url(#hb1_0)"/>
  <path d="M208.0,92.9 L212.0,91.4 L216.0,90.0 L220.0,88.7 L224.0,87.5 L228.0,86.5 L232.0,85.4 L236.0,84.5 L240.0,83.6 L244.0,82.8 L248.0,82.0 L252.0,81.3 L256.0,80.7 L260.0,80.1 L264.0,79.5 L268.0,79.0 L272.0,78.5 L276.0,78.0 L280.0,77.6 L284.0,77.2 L288.0,76.8 L292.0,76.4 L296.0,76.1 L300.0,75.8 L304.0,75.5 L308.0,75.2 L312.0,74.9 L316.0,74.7 L320.0,74.4 L324.0,74.2 L328.0,74.0 L332.0,73.8 L336.0,73.6 L340.0,73.4 L344.0,73.3 L344.0,76.8 L340.0,76.9 L336.0,77.1 L332.0,77.3 L328.0,77.5 L324.0,77.6 L320.0,77.8 L316.0,78.0 L312.0,78.2 L308.0,78.5 L304.0,78.7 L300.0,79.0 L296.0,79.2 L292.0,79.5 L288.0,79.8 L284.0,80.2 L280.0,80.5 L276.0,80.9 L272.0,81.3 L268.0,81.7 L264.0,82.2 L260.0,82.6 L256.0,83.2 L252.0,83.7 L248.0,84.3 L244.0,85.0 L240.0,85.6 L236.0,86.4 L232.0,87.2 L228.0,88.0 L224.0,89.0 L220.0,90.0 L216.0,91.0 L212.0,92.2 L208.0,93.4Z M32.0,50.6 L36.0,50.6 L40.0,50.6 L44.0,50.6 L48.0,50.6 L52.0,50.6 L56.0,50.6 L60.0,50.5 L64.0,50.5 L68.0,50.4 L72.0,50.3 L76.0,50.1 L80.0,50.0 L84.0,49.8 L88.0,49.5 L92.0,49.3 L96.0,49.0 L100.0,48.7 L104.0,48.4 L108.0,48.0 L112.0,47.6 L116.0,47.2 L120.0,46.7 L124.0,46.2 L128.0,45.6 L132.0,45.0 L136.0,44.3 L140.0,43.6 L144.0,42.8 L148.0,42.0 L152.0,41.0 L156.0,40.0 L160.0,38.9 L164.0,37.8 L168.0,36.5 L172.0,35.1 L176.0,33.7 L180.0,32.1 L184.0,30.4 L188.0,28.7 L188.0,29.1 L184.0,31.2 L180.0,33.1 L176.0,34.8 L172.0,36.5 L168.0,38.0 L164.0,39.5 L160.0,40.8 L156.0,42.0 L152.0,43.2 L148.0,44.3 L144.0,45.3 L140.0,46.2 L136.0,47.0 L132.0,47.8 L128.0,48.5 L124.0,49.1 L120.0,49.7 L116.0,50.2 L112.0,50.7 L108.0,51.2 L104.0,51.6 L100.0,51.9 L96.0,52.3 L92.0,52.6 L88.0,52.8 L84.0,53.1 L80.0,53.3 L76.0,53.5 L72.0,53.6 L68.0,53.7 L64.0,53.9 L60.0,54.0 L56.0,54.0 L52.0,54.1 L48.0,54.1 L44.0,54.1 L40.0,54.1 L36.0,54.1 L32.0,54.1Z" fill="#fa730d" filter="url(#hb0_5)"/>
  <path d="M220.0,89.2 L224.0,87.9 L228.0,86.8 L232.0,85.8 L236.0,84.8 L240.0,83.9 L244.0,83.1 L248.0,82.3 L252.0,81.6 L256.0,81.0 L260.0,80.4 L264.0,79.8 L268.0,79.3 L272.0,78.8 L276.0,78.3 L280.0,77.9 L284.0,77.5 L288.0,77.1 L292.0,76.7 L296.0,76.4 L300.0,76.1 L304.0,75.8 L308.0,75.5 L312.0,75.3 L316.0,75.0 L320.0,74.8 L324.0,74.5 L328.0,74.3 L332.0,74.1 L336.0,73.9 L340.0,73.8 L344.0,73.6 L344.0,76.4 L340.0,76.6 L336.0,76.7 L332.0,76.9 L328.0,77.1 L324.0,77.3 L320.0,77.5 L316.0,77.7 L312.0,77.9 L308.0,78.1 L304.0,78.4 L300.0,78.6 L296.0,78.9 L292.0,79.2 L288.0,79.5 L284.0,79.9 L280.0,80.2 L276.0,80.6 L272.0,81.0 L268.0,81.4 L264.0,81.9 L260.0,82.3 L256.0,82.9 L252.0,83.4 L248.0,84.0 L244.0,84.7 L240.0,85.3 L236.0,86.1 L232.0,86.9 L228.0,87.7 L224.0,88.6 L220.0,89.5Z M32.0,51.0 L36.0,51.0 L40.0,51.0 L44.0,51.0 L48.0,51.0 L52.0,51.0 L56.0,50.9 L60.0,50.9 L64.0,50.8 L68.0,50.7 L72.0,50.6 L76.0,50.4 L80.0,50.3 L84.0,50.1 L88.0,49.9 L92.0,49.6 L96.0,49.3 L100.0,49.0 L104.0,48.7 L108.0,48.3 L112.0,47.9 L116.0,47.5 L120.0,47.0 L124.0,46.5 L128.0,45.9 L132.0,45.3 L136.0,44.6 L140.0,43.9 L144.0,43.1 L148.0,42.3 L152.0,41.3 L156.0,40.3 L160.0,39.3 L164.0,38.1 L168.0,36.8 L172.0,35.5 L176.0,34.1 L176.0,34.4 L172.0,36.1 L168.0,37.7 L164.0,39.1 L160.0,40.5 L156.0,41.7 L152.0,42.9 L148.0,44.0 L144.0,44.9 L140.0,45.9 L136.0,46.7 L132.0,47.5 L128.0,48.2 L124.0,48.8 L120.0,49.4 L116.0,49.9 L112.0,50.4 L108.0,50.8 L104.0,51.2 L100.0,51.6 L96.0,51.9 L92.0,52.2 L88.0,52.5 L84.0,52.7 L80.0,52.9 L76.0,53.1 L72.0,53.3 L68.0,53.4 L64.0,53.5 L60.0,53.6 L56.0,53.7 L52.0,53.7 L48.0,53.8 L44.0,53.8 L40.0,53.8 L36.0,53.8 L32.0,53.8Z" fill="#fc8f17" filter="url(#hb0_5)"/>
  <path d="M236.0,85.2 L240.0,84.3 L244.0,83.4 L248.0,82.6 L252.0,81.9 L256.0,81.3 L260.0,80.7 L264.0,80.1 L268.0,79.6 L272.0,79.1 L276.0,78.6 L280.0,78.2 L284.0,77.8 L288.0,77.4 L292.0,77.1 L296.0,76.7 L300.0,76.4 L304.0,76.1 L308.0,75.8 L312.0,75.6 L316.0,75.3 L320.0,75.1 L324.0,74.9 L328.0,74.6 L332.0,74.4 L336.0,74.3 L340.0,74.1 L344.0,73.9 L344.0,76.1 L340.0,76.3 L336.0,76.4 L332.0,76.6 L328.0,76.8 L324.0,77.0 L320.0,77.2 L316.0,77.4 L312.0,77.6 L308.0,77.8 L304.0,78.1 L300.0,78.3 L296.0,78.6 L292.0,78.9 L288.0,79.2 L284.0,79.6 L280.0,79.9 L276.0,80.3 L272.0,80.7 L268.0,81.1 L264.0,81.5 L260.0,82.0 L256.0,82.6 L252.0,83.1 L248.0,83.7 L244.0,84.3 L240.0,85.0 L236.0,85.6Z M32.0,51.3 L36.0,51.3 L40.0,51.3 L44.0,51.3 L48.0,51.3 L52.0,51.3 L56.0,51.2 L60.0,51.2 L64.0,51.1 L68.0,51.0 L72.0,50.9 L76.0,50.8 L80.0,50.6 L84.0,50.4 L88.0,50.2 L92.0,49.9 L96.0,49.7 L100.0,49.3 L104.0,49.0 L108.0,48.7 L112.0,48.2 L116.0,47.8 L120.0,47.3 L124.0,46.8 L128.0,46.2 L132.0,45.6 L136.0,44.9 L140.0,44.2 L144.0,43.4 L148.0,42.6 L152.0,41.7 L156.0,40.7 L160.0,39.7 L160.0,40.1 L156.0,41.4 L152.0,42.6 L148.0,43.6 L144.0,44.6 L140.0,45.5 L136.0,46.4 L132.0,47.2 L128.0,47.9 L124.0,48.5 L120.0,49.1 L116.0,49.6 L112.0,50.1 L108.0,50.5 L104.0,50.9 L100.0,51.3 L96.0,51.6 L92.0,51.9 L88.0,52.2 L84.0,52.4 L80.0,52.6 L76.0,52.8 L72.0,53.0 L68.0,53.1 L64.0,53.2 L60.0,53.3 L56.0,53.4 L52.0,53.4 L48.0,53.4 L44.0,53.4 L40.0,53.4 L36.0,53.4 L32.0,53.4Z" fill="#ffaf23" filter="url(#hb0_5)"/>
  <path d="M256.0,81.7 L260.0,81.1 L264.0,80.5 L268.0,79.9 L272.0,79.4 L276.0,78.9 L280.0,78.5 L284.0,78.1 L288.0,77.7 L292.0,77.4 L296.0,77.0 L300.0,76.7 L304.0,76.4 L308.0,76.2 L312.0,75.9 L316.0,75.6 L320.0,75.4 L324.0,75.2 L328.0,74.9 L332.0,74.8 L336.0,74.6 L340.0,74.4 L344.0,74.2 L344.0,75.8 L340.0,75.9 L336.0,76.1 L332.0,76.3 L328.0,76.5 L324.0,76.7 L320.0,76.9 L316.0,77.1 L312.0,77.3 L308.0,77.5 L304.0,77.8 L300.0,78.0 L296.0,78.3 L292.0,78.6 L288.0,78.9 L284.0,79.2 L280.0,79.6 L276.0,79.9 L272.0,80.3 L268.0,80.7 L264.0,81.2 L260.0,81.6 L256.0,82.1Z M32.0,51.6 L36.0,51.6 L40.0,51.6 L44.0,51.6 L48.0,51.6 L52.0,51.6 L56.0,51.6 L60.0,51.5 L64.0,51.4 L68.0,51.3 L72.0,51.2 L76.0,51.1 L80.0,50.9 L84.0,50.7 L88.0,50.5 L92.0,50.2 L96.0,50.0 L100.0,49.7 L104.0,49.3 L108.0,49.0 L112.0,48.6 L116.0,48.1 L120.0,47.7 L124.0,47.1 L128.0,46.5 L132.0,45.9 L136.0,45.3 L140.0,44.6 L140.0,45.1 L136.0,46.0 L132.0,46.8 L128.0,47.5 L124.0,48.2 L120.0,48.7 L116.0,49.3 L112.0,49.8 L108.0,50.2 L104.0,50.6 L100.0,51.0 L96.0,51.3 L92.0,51.6 L88.0,51.9 L84.0,52.1 L80.0,52.3 L76.0,52.5 L72.0,52.7 L68.0,52.8 L64.0,52.9 L60.0,53.0 L56.0,53.1 L52.0,53.1 L48.0,53.1 L44.0,53.1 L40.0,53.1 L36.0,53.1 L32.0,53.1Z" fill="#ffce5a" filter="url(#hb0_5)"/>
  <path d="M296.0,77.6 L300.0,77.2 L304.0,76.9 L308.0,76.6 L312.0,76.3 L316.0,76.0 L320.0,75.8 L324.0,75.6 L328.0,75.3 L332.0,75.1 L336.0,75.0 L340.0,74.8 L344.0,74.6 L344.0,75.4 L340.0,75.6 L336.0,75.7 L332.0,75.9 L328.0,76.1 L324.0,76.3 L320.0,76.5 L316.0,76.7 L312.0,76.9 L308.0,77.1 L304.0,77.3 L300.0,77.5 L296.0,77.8Z M32.0,52.0 L36.0,52.0 L40.0,52.0 L44.0,52.0 L48.0,52.0 L52.0,52.0 L56.0,51.9 L60.0,51.9 L64.0,51.8 L68.0,51.7 L72.0,51.6 L76.0,51.5 L80.0,51.3 L84.0,51.1 L88.0,50.9 L92.0,50.7 L96.0,50.4 L100.0,50.1 L104.0,49.8 L108.0,49.5 L108.0,49.7 L104.0,50.2 L100.0,50.6 L96.0,50.9 L92.0,51.2 L88.0,51.5 L84.0,51.7 L80.0,51.9 L76.0,52.1 L72.0,52.3 L68.0,52.4 L64.0,52.5 L60.0,52.6 L56.0,52.7 L52.0,52.7 L48.0,52.7 L44.0,52.8 L40.0,52.8 L36.0,52.8 L32.0,52.8Z" fill="#ffe9a1" filter="url(#hb0_5)"/>
  <path d="M47.00,210.00 L48.41,208.75 L49.82,207.50 L51.24,206.25 L52.65,205.00 L54.06,203.75 L55.47,202.50 L56.88,201.26 L58.30,200.01 L59.71,198.76 L61.12,197.51 L62.53,196.27 L63.94,195.02 L65.36,193.78 L66.77,192.53 L68.18,191.29 L69.59,190.05 L71.01,188.81 L72.42,187.57 L73.83,186.33 L75.24,185.09 L76.65,183.86 L78.07,182.62 L79.48,181.39 L80.89,180.16 L82.30,178.93 L83.71,177.70 L85.13,176.48 L86.54,175.25 L87.95,174.03 L89.36,172.81 L90.77,171.59 L92.19,170.38 L93.60,169.16 L95.01,167.95 L96.42,166.74 L97.83,165.54 L99.25,164.34 L100.66,163.14 L102.07,161.94 L103.48,160.75 L104.89,159.56 L106.31,158.37 L107.72,157.19 L109.13,156.01 L110.54,154.83 L111.95,153.66 L113.37,152.49 L114.78,151.33 L116.19,150.17 L117.60,149.01 L119.02,147.86 L120.43,146.72 L121.84,145.58 L123.25,144.44 L124.66,143.31 L126.08,142.18 L127.49,141.07 L128.90,139.95 L130.31,138.85 L131.72,137.74 L133.14,136.65 L134.55,135.56 L135.96,134.48 L137.37,133.41 L138.78,132.34 L140.20,131.28 L141.61,130.23 L143.02,129.19 L144.43,128.15 L145.84,127.12 L147.26,126.11 L148.67,125.10 L150.08,124.10 L151.49,123.10 L152.90,122.12 L154.32,121.15 L155.73,120.19 L157.14,119.24 L158.55,118.30 L159.96,117.36 L161.38,116.44 L162.79,115.54 L164.20,114.64 L165.61,113.75 L167.03,112.88 L168.44,112.02 L169.85,111.17 L171.26,110.33 L172.67,109.50 L174.09,108.69 L175.50,107.89 L176.91,107.10 L178.32,106.33 L179.73,105.57 L181.15,104.82 L182.56,104.08 L183.97,103.36 L185.38,102.65 L186.79,101.96 L188.21,101.28 L189.62,100.61 L191.03,99.96 L192.44,99.32 L193.85,98.69 L195.27,98.07 L196.68,97.47 L198.09,96.89 L199.50,96.31 L200.91,95.75 L202.33,95.20 L203.74,94.66 L205.15,94.14 L206.56,93.63 L207.97,93.13 L209.39,92.64 L210.80,92.17 L212.21,91.70 L213.62,91.25 L215.04,90.81 L216.45,90.38 L217.86,89.96 L219.27,89.55 L220.68,89.15 L222.10,88.76 L223.51,88.39 L224.92,88.02 L226.33,87.66 L227.74,87.31 L229.16,86.97 L230.57,86.63 L231.98,86.31 L233.39,86.00 L234.80,85.69 L236.22,85.39 L237.63,85.10 L239.04,84.81 L240.45,84.54 L241.86,84.27 L243.28,84.00 L244.69,83.75 L246.10,83.50 L247.51,83.25 L248.92,83.02 L250.34,82.79 L251.75,82.56 L253.16,82.34 L254.57,82.13 L255.98,81.92 L257.40,81.71 L258.81,81.51 L260.22,81.32 L261.63,81.13 L263.05,80.95 L264.46,80.77 L265.87,80.59 L267.28,80.42 L268.69,80.25 L270.11,80.09 L271.52,79.93 L272.93,79.77 L274.34,79.62 L275.75,79.47 L277.17,79.32 L278.58,79.18 L279.99,79.04 L281.40,78.91 L282.81,78.77 L284.23,78.64 L285.64,78.52 L287.05,78.39 L288.46,78.27 L289.87,78.15 L291.29,78.04 L292.70,77.92 L294.11,77.81 L295.52,77.70 L296.93,77.59 L298.35,77.49 L299.76,77.39 L301.17,77.29 L302.58,77.19 L303.99,77.09 L305.41,77.00 L306.82,76.91 L308.23,76.82 L309.64,76.73 L311.06,76.64 L312.47,76.55 L313.88,76.47 L315.29,76.39 L316.70,76.31 L318.12,76.23 L319.53,76.15 L320.94,76.08 L322.35,76.00 L323.76,75.93 L325.18,75.86 L326.59,75.79 L328.00,75.72" stroke="url(#gSpLo)" stroke-width="1.5" stroke-dasharray="1.6 1.2 2.6 0.9 1 1.7 3.2 1.1 0.8 1.4"/>
  <path d="M47.00,52.36 L48.41,52.36 L49.82,52.35 L51.24,52.35 L52.65,52.34 L54.06,52.33 L55.47,52.31 L56.88,52.29 L58.30,52.27 L59.71,52.25 L61.12,52.23 L62.53,52.20 L63.94,52.17 L65.36,52.13 L66.77,52.10 L68.18,52.06 L69.59,52.02 L71.01,51.97 L72.42,51.92 L73.83,51.87 L75.24,51.82 L76.65,51.76 L78.07,51.70 L79.48,51.64 L80.89,51.57 L82.30,51.50 L83.71,51.43 L85.13,51.35 L86.54,51.27 L87.95,51.19 L89.36,51.10 L90.77,51.01 L92.19,50.92 L93.60,50.82 L95.01,50.72 L96.42,50.61 L97.83,50.50 L99.25,50.39 L100.66,50.27 L102.07,50.15 L103.48,50.02 L104.89,49.89 L106.31,49.76 L107.72,49.62 L109.13,49.48 L110.54,49.33 L111.95,49.17 L113.37,49.01 L114.78,48.85 L116.19,48.68 L117.60,48.51 L119.02,48.33 L120.43,48.14 L121.84,47.95 L123.25,47.75 L124.66,47.55 L126.08,47.33 L127.49,47.12 L128.90,46.89 L130.31,46.66 L131.72,46.43 L133.14,46.18 L134.55,45.93 L135.96,45.67 L137.37,45.40 L138.78,45.12 L140.20,44.84 L141.61,44.55 L143.02,44.25 L144.43,43.94 L145.84,43.62 L147.26,43.29 L148.67,42.95 L150.08,42.61 L151.49,42.25 L152.90,41.88 L154.32,41.50 L155.73,41.11 L157.14,40.72 L158.55,40.31 L159.96,39.88 L161.38,39.45 L162.79,39.01 L164.20,38.55 L165.61,38.08 L167.03,37.60 L168.44,37.11 L169.85,36.60 L171.26,36.08 L172.67,35.55 L174.09,35.01 L175.50,34.45 L176.91,33.88 L178.32,33.29 L179.73,32.69 L181.15,32.08 L182.56,31.46 L183.97,30.82 L185.38,30.16 L186.79,29.50 L188.21,28.82 L189.62,28.12 L191.03,27.41 L192.44,26.69 L193.85,25.95 L195.27,25.20 L196.68,24.44 L198.09,23.66 L199.50,22.87 L200.91,22.07 L202.33,21.25 L203.74,20.42 L205.15,19.58 L206.56,18.72 L207.97,17.85 L209.39,16.97 L210.80,16.08 L212.21,15.17 L213.62,14.26 L215.04,13.33 L216.45,12.39 L217.86,11.44 L219.27,10.48 L220.68,9.51 L222.10,8.52 L223.51,7.53 L224.92,6.53 L226.33,5.51 L227.74,4.49 L229.16,3.46 L230.57,2.42 L231.98,1.37 L233.39,0.31 L234.80,-0.75 L236.22,-1.83 L237.63,-2.91 L239.04,-4.00 L240.45,-5.10" stroke="url(#gSpUp)" stroke-width="1.5" stroke-dasharray="1.6 1.2 2.6 0.9 1 1.7 3.2 1.1 0.8 1.4"/>
  <!-- dotted asymptotes -->
  <path d="M54.9,70 H328" stroke="#f4f2f6" stroke-width="1.4" stroke-linecap="round" stroke-dasharray="0 6.94"/>
  <path d="M54.9,52.3 H328" stroke="#f4f2f6" stroke-width="1.4" stroke-linecap="round" stroke-dasharray="0 6.94"/>
  <!-- dashed analytic dispersion -->
  <path d="M47.00,210.00 L48.41,208.75 L49.82,207.50 L51.24,206.25 L52.65,205.00 L54.06,203.75 L55.47,202.50 L56.88,201.26 L58.30,200.01 L59.71,198.76 L61.12,197.51 L62.53,196.27 L63.94,195.02 L65.36,193.78 L66.77,192.53 L68.18,191.29 L69.59,190.05 L71.01,188.81 L72.42,187.57 L73.83,186.33 L75.24,185.09 L76.65,183.86 L78.07,182.62 L79.48,181.39 L80.89,180.16 L82.30,178.93 L83.71,177.70 L85.13,176.48 L86.54,175.25 L87.95,174.03 L89.36,172.81 L90.77,171.59 L92.19,170.38 L93.60,169.16 L95.01,167.95 L96.42,166.74 L97.83,165.54 L99.25,164.34 L100.66,163.14 L102.07,161.94 L103.48,160.75 L104.89,159.56 L106.31,158.37 L107.72,157.19 L109.13,156.01 L110.54,154.83 L111.95,153.66 L113.37,152.49 L114.78,151.33 L116.19,150.17 L117.60,149.01 L119.02,147.86 L120.43,146.72 L121.84,145.58 L123.25,144.44 L124.66,143.31 L126.08,142.18 L127.49,141.07 L128.90,139.95 L130.31,138.85 L131.72,137.74 L133.14,136.65 L134.55,135.56 L135.96,134.48 L137.37,133.41 L138.78,132.34 L140.20,131.28 L141.61,130.23 L143.02,129.19 L144.43,128.15 L145.84,127.12 L147.26,126.11 L148.67,125.10 L150.08,124.10 L151.49,123.10 L152.90,122.12 L154.32,121.15 L155.73,120.19 L157.14,119.24 L158.55,118.30 L159.96,117.36 L161.38,116.44 L162.79,115.54 L164.20,114.64 L165.61,113.75 L167.03,112.88 L168.44,112.02 L169.85,111.17 L171.26,110.33 L172.67,109.50 L174.09,108.69 L175.50,107.89 L176.91,107.10 L178.32,106.33 L179.73,105.57 L181.15,104.82 L182.56,104.08 L183.97,103.36 L185.38,102.65 L186.79,101.96 L188.21,101.28 L189.62,100.61 L191.03,99.96 L192.44,99.32 L193.85,98.69 L195.27,98.07 L196.68,97.47 L198.09,96.89 L199.50,96.31 L200.91,95.75 L202.33,95.20 L203.74,94.66 L205.15,94.14 L206.56,93.63 L207.97,93.13 L209.39,92.64 L210.80,92.17 L212.21,91.70 L213.62,91.25 L215.04,90.81 L216.45,90.38 L217.86,89.96 L219.27,89.55 L220.68,89.15 L222.10,88.76 L223.51,88.39 L224.92,88.02 L226.33,87.66 L227.74,87.31 L229.16,86.97 L230.57,86.63 L231.98,86.31 L233.39,86.00 L234.80,85.69 L236.22,85.39 L237.63,85.10 L239.04,84.81 L240.45,84.54 L241.86,84.27 L243.28,84.00 L244.69,83.75 L246.10,83.50 L247.51,83.25 L248.92,83.02 L250.34,82.79 L251.75,82.56 L253.16,82.34 L254.57,82.13 L255.98,81.92 L257.40,81.71 L258.81,81.51 L260.22,81.32 L261.63,81.13 L263.05,80.95 L264.46,80.77 L265.87,80.59 L267.28,80.42 L268.69,80.25 L270.11,80.09 L271.52,79.93 L272.93,79.77 L274.34,79.62 L275.75,79.47 L277.17,79.32 L278.58,79.18 L279.99,79.04 L281.40,78.91 L282.81,78.77 L284.23,78.64 L285.64,78.52 L287.05,78.39 L288.46,78.27 L289.87,78.15 L291.29,78.04 L292.70,77.92 L294.11,77.81 L295.52,77.70 L296.93,77.59 L298.35,77.49 L299.76,77.39 L301.17,77.29 L302.58,77.19 L303.99,77.09 L305.41,77.00 L306.82,76.91 L308.23,76.82 L309.64,76.73 L311.06,76.64 L312.47,76.55 L313.88,76.47 L315.29,76.39 L316.70,76.31 L318.12,76.23 L319.53,76.15 L320.94,76.08 L322.35,76.00 L323.76,75.93 L325.18,75.86 L326.59,75.79 L328.00,75.72" stroke="#ffffff" stroke-width="1.45" stroke-dasharray="6.6 4.6"/>
  <path d="M47.00,52.36 L48.41,52.36 L49.82,52.35 L51.24,52.35 L52.65,52.34 L54.06,52.33 L55.47,52.31 L56.88,52.29 L58.30,52.27 L59.71,52.25 L61.12,52.23 L62.53,52.20 L63.94,52.17 L65.36,52.13 L66.77,52.10 L68.18,52.06 L69.59,52.02 L71.01,51.97 L72.42,51.92 L73.83,51.87 L75.24,51.82 L76.65,51.76 L78.07,51.70 L79.48,51.64 L80.89,51.57 L82.30,51.50 L83.71,51.43 L85.13,51.35 L86.54,51.27 L87.95,51.19 L89.36,51.10 L90.77,51.01 L92.19,50.92 L93.60,50.82 L95.01,50.72 L96.42,50.61 L97.83,50.50 L99.25,50.39 L100.66,50.27 L102.07,50.15 L103.48,50.02 L104.89,49.89 L106.31,49.76 L107.72,49.62 L109.13,49.48 L110.54,49.33 L111.95,49.17 L113.37,49.01 L114.78,48.85 L116.19,48.68 L117.60,48.51 L119.02,48.33 L120.43,48.14 L121.84,47.95 L123.25,47.75 L124.66,47.55 L126.08,47.33 L127.49,47.12 L128.90,46.89 L130.31,46.66 L131.72,46.43 L133.14,46.18 L134.55,45.93 L135.96,45.67 L137.37,45.40 L138.78,45.12 L140.20,44.84 L141.61,44.55 L143.02,44.25 L144.43,43.94 L145.84,43.62 L147.26,43.29 L148.67,42.95 L150.08,42.61 L151.49,42.25 L152.90,41.88 L154.32,41.50 L155.73,41.11 L157.14,40.72 L158.55,40.31 L159.96,39.88 L161.38,39.45 L162.79,39.01 L164.20,38.55 L165.61,38.08 L167.03,37.60 L168.44,37.11 L169.85,36.60 L171.26,36.08 L172.67,35.55 L174.09,35.01 L175.50,34.45 L176.91,33.88 L178.32,33.29 L179.73,32.69 L181.15,32.08 L182.56,31.46 L183.97,30.82 L185.38,30.16 L186.79,29.50 L188.21,28.82 L189.62,28.12 L191.03,27.41 L192.44,26.69 L193.85,25.95 L195.27,25.20 L196.68,24.44 L198.09,23.66 L199.50,22.87 L200.91,22.07 L202.33,21.25 L203.74,20.42 L205.15,19.58 L206.56,18.72 L207.97,17.85 L209.39,16.97 L210.80,16.08 L212.21,15.17 L213.62,14.26 L215.04,13.33 L216.45,12.39 L217.86,11.44 L219.27,10.48 L220.68,9.51 L222.10,8.52 L223.51,7.53 L224.92,6.53 L226.33,5.51 L227.74,4.49 L229.16,3.46 L230.57,2.42 L231.98,1.37 L233.39,0.31 L234.80,-0.75 L236.22,-1.83 L237.63,-2.91 L239.04,-4.00 L240.45,-5.10" stroke="#ffffff" stroke-width="1.45" stroke-dasharray="6.6 4.6"/>
</g>
<!-- frame -->
<path d="M47.75,0 V210.5" stroke="#000" stroke-width="1.5" fill="none"/>
<path d="M328,0 V210.5" stroke="#000" stroke-width="1" fill="none"/>
<!-- markers -->
<circle cx="161.4" cy="117" r="6.3" fill="#b5c8ff"/>
<circle cx="205.1" cy="94.4" r="6.3" fill="#6b80ff"/>
<circle cx="244.3" cy="83.9" r="6.3" fill="#0000ff"/>
<!-- colour bar -->
<rect x="192" y="179.5" width="123.5" height="17" fill="url(#gBar)"/>
<path d="M228.1,174 V179.5 M265.2,174 V179.5 M301.7,174 V179.5" stroke="#ffffff" stroke-width="0.8" fill="none"/>
<g fill="#ffffff" font-size="17.8" letter-spacing="0.2" text-anchor="middle">
  <text x="228.1" y="165.4">0.3</text>
  <text x="265.2" y="165.4">0.6</text>
  <text x="301.7" y="165.4">0.9</text>
</g>
<text x="57.8" y="29.8" font-size="25" letter-spacing="1" fill="#ffffff">(a)</text>
<!-- ticks labels -->
<g fill="#000" font-size="17.8">
  <text x="46.4" y="228.4" text-anchor="middle">0</text>
  <text x="187.4" y="228.4" text-anchor="middle">1</text>
  <text x="327.6" y="228.4" text-anchor="middle">2</text>
  <text x="41.6" y="214.8" text-anchor="end">0</text>
  <text x="40.5" y="75" text-anchor="end">1</text>
</g>
<!-- y label -->
<g transform="translate(15,142.4) rotate(-90)">
  <text x="0" y="0" font-size="21" fill="#000"><tspan class="it">ω</tspan><tspan class="it" font-size="16" dy="3.2">pp</tspan><tspan dy="-3.2" dx="-0.4">/</tspan><tspan class="it">ω</tspan><tspan font-size="16" dy="3.2" dx="-0.5">TO</tspan></text>
</g>
<!-- x label -->
<text x="131.8" y="263" font-size="21" fill="#000" letter-spacing="0.2">ck/<tspan class="it">ω</tspan><tspan font-size="16" dy="3.2" dx="0.5">TO</tspan></text>
<path d="M197.8,260.3 L199.9,258.9" stroke="#000" stroke-width="0.8" fill="none"/>
<path d="M199.9,258.9 L205.6,268.6" stroke="#000" stroke-width="1.7" fill="none"/>
<path d="M205.6,268.8 L209.7,244.4 H238.8" stroke="#000" stroke-width="0.9" fill="none" stroke-linejoin="miter"/>
<text x="214.6" y="263" font-size="21" fill="#000"><tspan class="it">ε</tspan><tspan font-size="16" dy="4.5" dx="1.3">∞</tspan></text>

<!-- ================= RIGHT PANEL (b) ================= -->
<g clip-path="url(#clipR)" fill="none" stroke-linejoin="bevel" stroke-linecap="round">
  <path d="M395.0,209.3 C395.0,209.3 414.2,209.3 425.0,209.1 C435.8,208.9 433.2,209.0 438.0,208.6 C442.8,208.2 441.2,207.6 444.0,207.6 C446.8,207.6 446.5,208.7 449.0,208.4 C451.5,208.1 451.5,206.7 454.0,206.5 C456.5,206.3 456.6,208.1 459.0,207.6 C461.4,207.1 461.3,204.8 463.7,204.5 C466.1,204.2 465.9,207.2 468.5,206.5 C471.1,205.8 471.7,202.0 474.3,201.6 C476.9,201.2 476.6,206.1 479.0,205.0 C481.4,203.9 481.4,197.7 483.8,197.3 C486.2,196.9 486.1,205.9 488.5,203.5 C490.9,201.1 490.9,189.4 493.2,187.8 C495.5,186.2 495.3,201.8 497.6,197.0 C499.9,192.2 500.1,169.4 502.5,168.8 C504.9,168.2 505.0,203.3 507.4,194.6 C509.8,185.9 509.7,135.6 512.0,134.0 C514.3,132.4 514.4,189.4 516.6,188.4 C518.9,187.4 518.9,131.8 521.0,130.0 C523.1,128.2 523.5,170.9 524.9,181.0 C526.3,191.1 526.0,174.1 526.8,170.5 C527.6,166.9 526.8,172.2 528.0,166.5 C529.2,160.8 529.7,142.6 531.6,147.5 C533.5,152.4 533.5,181.6 535.5,186.0 C537.5,190.4 537.5,164.0 539.5,165.0 C541.5,166.0 541.5,181.2 543.5,190.0 C545.5,198.8 545.7,202.2 547.5,200.0 C549.3,197.8 548.4,182.2 550.6,181.0 C552.9,179.8 553.9,194.2 556.5,195.0 C559.1,195.8 558.9,184.0 561.0,184.0 C563.1,184.0 563.0,194.5 565.0,195.0 C567.0,195.5 567.0,185.8 569.0,186.0 C571.0,186.2 571.0,195.0 573.0,196.0 C575.0,197.0 575.5,195.2 577.0,190.0 C578.5,184.8 577.9,185.0 578.8,175.0 C579.7,165.0 579.6,150.0 580.5,150.0 C581.4,150.0 581.2,164.2 582.2,175.0 C583.2,185.8 582.7,190.9 584.5,193.0 C586.3,195.1 587.1,182.8 589.5,183.5 C591.9,184.2 591.8,195.9 594.0,196.0 C596.2,196.1 596.6,186.5 598.5,184.0 C600.4,181.5 600.0,186.8 601.5,186.0 C603.0,185.2 603.2,180.5 604.6,181.0 C606.0,181.5 605.8,184.2 607.0,188.0 C608.2,191.8 607.8,192.4 609.5,196.0 C611.2,199.6 611.7,200.6 614.0,202.5 C616.3,204.4 616.0,202.5 618.8,203.5 C621.5,204.5 621.0,205.4 625.0,206.5 C629.0,207.6 628.8,207.3 635.0,208.0 C641.2,208.7 640.0,208.8 650.0,209.1 C660.0,209.4 675.0,209.3 675.0,209.3" stroke="#b5c8ff" stroke-width="3"/>
  <path d="M395.0,209.3 C395.0,209.3 446.2,209.6 470.0,209.0 C493.8,208.4 482.5,207.9 490.0,207.0 C497.5,206.1 496.5,206.0 500.0,205.5 C503.5,205.0 502.0,205.7 504.0,205.0 C506.0,204.3 506.0,202.8 508.0,202.7 C510.0,202.6 509.5,205.4 512.0,204.5 C514.5,203.6 515.5,199.8 517.9,199.0 C520.3,198.2 519.6,204.1 521.6,201.4 C523.6,198.8 524.0,188.6 526.0,188.4 C528.0,188.2 528.1,202.1 529.7,200.8 C531.3,199.6 531.3,194.2 532.4,183.4 C533.5,172.6 533.3,158.3 534.2,157.5 C535.1,156.7 535.1,172.4 536.0,180.0 C536.9,187.6 536.8,194.5 537.8,188.0 C538.8,181.5 538.9,168.5 539.8,154.0 C540.7,139.5 540.7,138.5 541.5,130.0 C542.3,121.5 542.1,121.5 543.0,120.0 C543.9,118.5 544.1,121.5 545.0,124.0 C545.9,126.5 545.8,120.9 546.4,130.0 C547.0,139.1 546.8,163.0 547.4,160.5 C548.0,158.0 548.0,142.8 549.0,120.0 C550.0,97.2 551.2,69.5 551.2,69.5 C551.2,69.5 552.1,97.4 553.0,120.0 C553.9,142.6 553.8,141.0 554.9,160.0 C556.0,179.0 556.0,194.5 557.6,196.0 C559.2,197.5 559.4,165.8 561.5,166.0 C563.6,166.2 563.9,193.2 566.0,197.0 C568.1,200.8 567.8,180.7 569.8,181.0 C571.8,181.3 572.0,196.5 574.2,198.3 C576.4,200.2 576.2,188.1 578.5,188.4 C580.8,188.7 581.3,200.8 583.5,199.6 C585.7,198.3 585.1,184.3 587.2,183.4 C589.3,182.5 589.8,194.1 592.0,196.0 C594.2,197.9 594.3,191.3 595.9,191.0 C597.5,190.7 596.4,196.8 598.3,194.6 C600.1,192.4 601.1,182.8 603.3,182.2 C605.5,181.5 605.5,187.7 607.0,192.0 C608.5,196.3 607.6,196.5 609.5,199.6 C611.4,202.7 612.0,202.8 614.5,204.5 C617.0,206.2 615.5,205.5 619.4,206.4 C623.3,207.3 616.1,207.3 630.0,208.0 C643.9,208.7 675.0,209.3 675.0,209.3" stroke="#6b80ff" stroke-width="3"/>
  <path d="M395.0,209.3 C395.0,209.3 447.5,209.6 470.0,209.1 C492.5,208.6 480.0,208.2 485.0,207.5 C490.0,206.8 487.8,206.9 490.0,206.3 C492.2,205.7 491.8,205.2 493.7,205.2 C495.6,205.2 495.3,206.4 497.5,206.4 C499.7,206.4 500.5,205.4 502.4,205.3 C504.3,205.2 503.8,206.4 505.0,206.0 C506.2,205.6 506.0,203.8 507.4,203.5 C508.8,203.2 508.6,205.2 510.5,204.9 C512.4,204.6 512.6,202.6 514.8,202.4 C517.0,202.2 517.3,204.2 519.2,204.1 C521.1,204.0 520.8,202.4 522.5,201.9 C524.2,201.4 524.2,201.6 526.0,202.2 C527.8,202.8 528.0,205.1 529.7,204.3 C531.4,203.5 531.1,199.1 532.8,199.0 C534.5,198.9 534.7,206.3 536.5,204.0 C538.3,201.7 538.2,191.1 540.0,189.8 C541.8,188.6 541.7,199.2 543.5,199.0 C545.3,198.8 545.3,188.6 547.3,189.2 C549.3,189.8 550.0,201.7 551.6,201.4 C553.2,201.1 553.0,194.3 553.6,188.0 C554.2,181.7 552.8,183.5 554.2,176.0 C555.6,168.5 557.7,170.8 559.2,158.0 C560.7,145.2 559.5,155.0 560.3,125.0 C561.1,95.0 562.4,38.0 562.4,38.0 C562.4,38.0 563.8,95.0 564.6,125.0 C565.4,155.0 564.8,145.1 565.5,158.0 C566.2,170.9 566.5,177.9 567.6,176.5 C568.7,175.1 568.7,152.6 569.9,152.5 C571.1,152.4 571.2,166.3 572.5,176.0 C573.8,185.7 573.8,194.2 575.0,191.3 C576.2,188.4 576.2,167.1 577.5,164.3 C578.8,161.5 578.8,171.8 580.0,180.0 C581.2,188.2 581.1,196.9 582.5,197.0 C583.9,197.1 584.1,181.2 585.6,180.5 C587.1,179.8 587.1,188.4 588.5,194.0 C589.9,199.6 589.7,203.1 591.2,203.0 C592.7,202.9 592.5,193.9 594.4,193.5 C596.3,193.1 596.8,201.8 599.0,201.4 C601.2,201.0 601.3,192.8 603.3,192.0 C605.3,191.2 605.1,195.3 607.0,198.3 C608.9,201.3 608.6,201.9 610.8,203.9 C613.0,205.9 612.3,205.5 615.7,206.4 C619.1,207.3 619.6,206.9 624.4,207.6 C629.2,208.3 622.4,208.7 635.0,209.1 C647.6,209.5 675.0,209.3 675.0,209.3" stroke="#0000ff" stroke-width="3"/>
</g>
<g fill="none" stroke-linecap="round">
  <path d="M581.7,1.1 V210" stroke="#626262" stroke-width="1.9" stroke-dasharray="0 6.95"/>
  <path d="M604.8,1.1 V210" stroke="#626262" stroke-width="1.9" stroke-dasharray="0 6.95"/>
</g>
<circle cx="519" cy="19.4" r="6.5" fill="#b5c8ff"/>
<circle cx="548.6" cy="19.4" r="6.5" fill="#6b80ff"/>
<circle cx="562.8" cy="19.4" r="6.5" fill="#0000ff"/>
<path d="M488.3,205.5 V209.5 M581.7,205.5 V209.5" stroke="#111" stroke-width="1" fill="none"/>
<!-- frame -->
<path d="M395.5,0.5 H675.5 V209.5 H395.5 Z" stroke="#484848" stroke-width="1" fill="none"/>
<text x="404.6" y="29.4" font-size="26.5" letter-spacing="1.3" fill="#000">(b)</text>
<g fill="#000" font-size="17.8" letter-spacing="0.2" text-anchor="middle">
  <text x="395" y="228.4">0</text>
  <text x="488.3" y="228.4">0.5</text>
  <text x="581.7" y="228.4">1</text>
  <text x="674.5" y="228.4">1.5</text>
</g>
<text x="499" y="258.2" font-size="21" fill="#000"><tspan class="it">ω</tspan><tspan class="it" font-size="16" dy="3.2">pp</tspan><tspan dy="-3.2" dx="-0.4">/</tspan><tspan class="it">ω</tspan><tspan font-size="16" dy="3.2" dx="-0.5">TO</tspan></text>
<g transform="translate(362.4,171.2) rotate(-90)">
  <text x="0" y="0" font-size="21" fill="#000">|<tspan font-weight="bold">A</tspan><tspan font-size="16" dy="3.2">tr</tspan><tspan dy="-3.2">(</tspan><tspan class="it">ω</tspan><tspan class="it" font-size="16" dy="3.2" dx="0.6">pp</tspan><tspan dy="-3.2" dx="0.5">)| </tspan><tspan letter-spacing="0.9">[a.u.]</tspan></text>
</g>
</svg>
</body>
</html>
